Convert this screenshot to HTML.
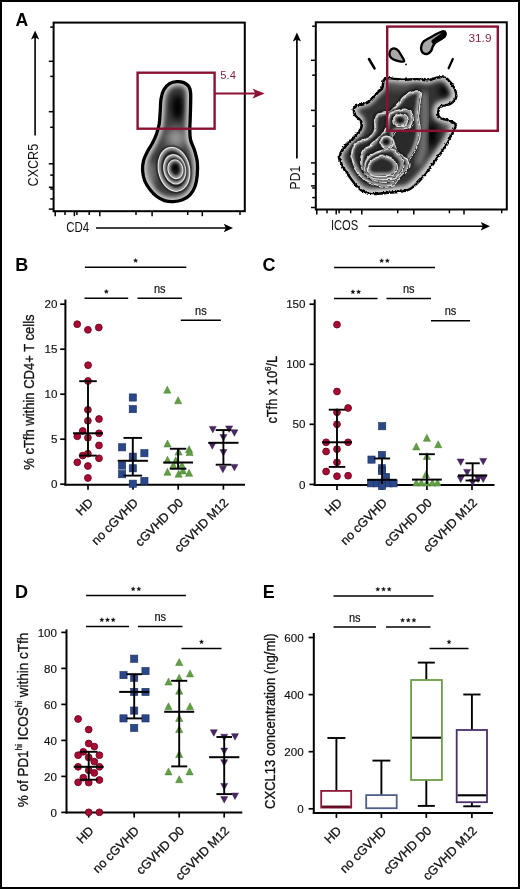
<!DOCTYPE html><html><head><meta charset="utf-8"><style>html,body{margin:0;padding:0;background:#fff}svg{display:block;will-change:transform;font-family:"Liberation Sans",sans-serif}</style></head><body>
<svg width="520" height="889" viewBox="0 0 520 889" font-family="'Liberation Sans', sans-serif">
<rect x="0" y="0" width="520" height="889" fill="#fff"/>
<defs><filter id="bl3" x="-50%" y="-50%" width="200%" height="200%"><feGaussianBlur stdDeviation="3"/></filter><filter id="bl2" x="-50%" y="-50%" width="200%" height="200%"><feGaussianBlur stdDeviation="2"/></filter><filter id="bl15" x="-50%" y="-50%" width="200%" height="200%"><feGaussianBlur stdDeviation="1.3"/></filter><filter id="jag" x="-10%" y="-10%" width="120%" height="120%"><feTurbulence type="turbulence" baseFrequency="0.35" numOctaves="1" seed="3" result="t"/><feDisplacementMap in="SourceGraphic" in2="t" scale="2.2" xChannelSelector="R" yChannelSelector="G"/></filter><filter id="jag3" x="-10%" y="-10%" width="120%" height="120%"><feTurbulence type="turbulence" baseFrequency="0.2" numOctaves="1" seed="7" result="t"/><feDisplacementMap in="SourceGraphic" in2="t" scale="1.2" xChannelSelector="R" yChannelSelector="G"/></filter><filter id="jag2" x="-10%" y="-10%" width="120%" height="120%"><feTurbulence type="turbulence" baseFrequency="0.15" numOctaves="1" seed="5" result="t"/><feDisplacementMap in="SourceGraphic" in2="t" scale="1.6" xChannelSelector="R" yChannelSelector="G"/></filter><filter id="bl5" x="-50%" y="-50%" width="200%" height="200%"><feGaussianBlur stdDeviation="5"/></filter></defs>
<text x="15.4" y="26" font-size="17.6" font-weight="bold" fill="#000">A</text>
<rect x="53.6" y="22.6" width="191.2" height="188.6" fill="none" stroke="#000" stroke-width="2"/>
<line x1="50.2" y1="27.1" x2="53.6" y2="27.1" stroke="#000" stroke-width="1.5"/>
<line x1="48.8" y1="61.3" x2="53.6" y2="61.3" stroke="#000" stroke-width="1.5"/>
<line x1="50.2" y1="76.4" x2="53.6" y2="76.4" stroke="#000" stroke-width="1.5"/>
<line x1="48.8" y1="111.7" x2="53.6" y2="111.7" stroke="#000" stroke-width="1.5"/>
<line x1="50.2" y1="127.3" x2="53.6" y2="127.3" stroke="#000" stroke-width="1.5"/>
<line x1="48.8" y1="163.8" x2="53.6" y2="163.8" stroke="#000" stroke-width="1.5"/>
<line x1="50.2" y1="175.1" x2="53.6" y2="175.1" stroke="#000" stroke-width="1.5"/>
<line x1="48.8" y1="187.3" x2="53.6" y2="187.3" stroke="#000" stroke-width="1.5"/>
<line x1="50.2" y1="189" x2="53.6" y2="189" stroke="#000" stroke-width="1.5"/>
<line x1="50.2" y1="198.9" x2="53.6" y2="198.9" stroke="#000" stroke-width="1.5"/>
<line x1="48.8" y1="209.1" x2="53.6" y2="209.1" stroke="#000" stroke-width="1.5"/>
<line x1="55.2" y1="211.2" x2="55.2" y2="216.2" stroke="#000" stroke-width="1.5"/>
<line x1="65" y1="211.2" x2="65" y2="215" stroke="#000" stroke-width="1.5"/>
<line x1="74.4" y1="211.2" x2="74.4" y2="216.2" stroke="#000" stroke-width="1.5"/>
<line x1="76.9" y1="211.2" x2="76.9" y2="215" stroke="#000" stroke-width="1.5"/>
<line x1="89.2" y1="211.2" x2="89.2" y2="215" stroke="#000" stroke-width="1.5"/>
<line x1="99.8" y1="211.2" x2="99.8" y2="216.2" stroke="#000" stroke-width="1.5"/>
<line x1="136" y1="211.2" x2="136" y2="215" stroke="#000" stroke-width="1.5"/>
<line x1="152.1" y1="211.2" x2="152.1" y2="216.2" stroke="#000" stroke-width="1.5"/>
<line x1="187.7" y1="211.2" x2="187.7" y2="215" stroke="#000" stroke-width="1.5"/>
<line x1="202.3" y1="211.2" x2="202.3" y2="216.2" stroke="#000" stroke-width="1.5"/>
<line x1="240" y1="211.2" x2="240" y2="215" stroke="#000" stroke-width="1.5"/>
<text x="38.4" y="165.1" font-size="15" text-anchor="middle" textLength="42.6" lengthAdjust="spacingAndGlyphs" transform="rotate(-90 38.4 165.1)" fill="#111">CXCR5</text>
<line x1="35.1" y1="135.5" x2="35.1" y2="37" stroke="#000" stroke-width="1.6"/>
<path d="M35.1,30.5 L39.2,39.6 L35.1,37.6 L31,39.6Z" fill="#000"/>
<text x="66.2" y="232.2" font-size="15" textLength="23" lengthAdjust="spacingAndGlyphs" fill="#111">CD4</text>
<line x1="96" y1="228" x2="226" y2="228" stroke="#000" stroke-width="1.4"/>
<path d="M233,228 L223.8,223.8 L225.8,228 L223.8,232.2Z" fill="#000"/>
<clipPath id="cL0"><path d="M176.80,81.60 C179.18,81.42 181.80,81.78 183.80,82.60 C185.80,83.42 187.67,84.77 188.80,86.50 C189.93,88.23 190.30,89.92 190.60,93.00 C190.90,96.08 190.67,100.67 190.60,105.00 C190.53,109.33 190.33,114.83 190.20,119.00 C190.07,123.17 189.73,126.50 189.80,130.00 C189.87,133.50 189.80,136.58 190.60,140.00 C191.40,143.42 193.48,146.83 194.60,150.50 C195.72,154.17 196.87,157.83 197.30,162.00 C197.73,166.17 197.58,171.42 197.20,175.50 C196.82,179.58 196.20,183.28 195.00,186.50 C193.80,189.72 192.08,192.58 190.00,194.80 C187.92,197.02 185.25,198.67 182.50,199.80 C179.75,200.93 176.50,201.47 173.50,201.60 C170.50,201.73 167.33,201.48 164.50,200.60 C161.67,199.72 158.92,198.15 156.50,196.30 C154.08,194.45 151.95,192.05 150.00,189.50 C148.05,186.95 146.03,184.17 144.80,181.00 C143.57,177.83 142.80,173.92 142.60,170.50 C142.40,167.08 142.78,163.67 143.60,160.50 C144.42,157.33 146.02,154.42 147.50,151.50 C148.98,148.58 151.00,145.92 152.50,143.00 C154.00,140.08 155.38,137.17 156.50,134.00 C157.62,130.83 158.57,128.00 159.20,124.00 C159.83,120.00 160.00,114.17 160.30,110.00 C160.60,105.83 160.42,102.37 161.00,99.00 C161.58,95.63 162.38,92.35 163.80,89.80 C165.22,87.25 167.33,85.07 169.50,83.70 C171.67,82.33 174.42,81.78 176.80,81.60Z"/></clipPath>
<clipPath id="cL1"><path d="M189.16,166.08 C189.75,168.85 189.97,171.92 189.77,174.63 C189.58,177.35 188.94,180.13 187.98,182.38 C187.03,184.63 185.63,186.69 184.07,188.13 C182.50,189.57 180.55,190.60 178.62,191.01 C176.68,191.43 174.47,191.28 172.46,190.60 C170.45,189.91 168.33,188.60 166.54,186.93 C164.76,185.27 163.04,182.99 161.76,180.59 C160.48,178.19 159.43,175.29 158.84,172.52 C158.25,169.75 158.03,166.68 158.23,163.97 C158.42,161.25 159.06,158.47 160.02,156.22 C160.97,153.97 162.37,151.91 163.93,150.47 C165.50,149.03 167.45,148.00 169.38,147.59 C171.32,147.17 173.53,147.32 175.54,148.00 C177.55,148.69 179.67,150.00 181.46,151.67 C183.24,153.33 184.96,155.61 186.24,158.01 C187.52,160.41 188.57,163.31 189.16,166.08Z"/></clipPath>
<clipPath id="cL2"><path d="M185.26,167.05 C185.66,168.90 185.79,170.95 185.64,172.77 C185.48,174.58 185.02,176.44 184.35,177.95 C183.67,179.46 182.68,180.84 181.59,181.82 C180.49,182.79 179.12,183.49 177.78,183.78 C176.43,184.06 174.90,183.98 173.50,183.53 C172.11,183.09 170.64,182.23 169.41,181.12 C168.18,180.02 167.00,178.51 166.12,176.91 C165.24,175.32 164.53,173.39 164.14,171.55 C163.74,169.70 163.61,167.65 163.76,165.83 C163.92,164.02 164.38,162.16 165.05,160.65 C165.73,159.14 166.72,157.76 167.81,156.78 C168.91,155.81 170.28,155.11 171.62,154.82 C172.97,154.54 174.50,154.62 175.90,155.07 C177.29,155.51 178.76,156.37 179.99,157.48 C181.22,158.58 182.40,160.09 183.28,161.69 C184.16,163.28 184.87,165.21 185.26,167.05Z"/></clipPath>
<clipPath id="cL3"><path d="M182.64,167.76 C182.89,168.93 182.96,170.24 182.84,171.40 C182.71,172.56 182.38,173.75 181.90,174.71 C181.42,175.68 180.73,176.58 179.98,177.21 C179.22,177.84 178.28,178.30 177.35,178.49 C176.43,178.69 175.38,178.65 174.44,178.38 C173.49,178.12 172.49,177.58 171.66,176.89 C170.83,176.20 170.04,175.25 169.46,174.24 C168.88,173.23 168.41,172.01 168.16,170.84 C167.91,169.67 167.84,168.36 167.96,167.20 C168.09,166.04 168.42,164.85 168.90,163.89 C169.38,162.92 170.07,162.02 170.82,161.39 C171.58,160.76 172.52,160.30 173.45,160.11 C174.37,159.91 175.42,159.95 176.36,160.22 C177.31,160.48 178.31,161.02 179.14,161.71 C179.97,162.40 180.76,163.35 181.34,164.36 C181.92,165.37 182.39,166.59 182.64,167.76Z"/></clipPath>
<path d="M176.80,81.60 C179.18,81.42 181.80,81.78 183.80,82.60 C185.80,83.42 187.67,84.77 188.80,86.50 C189.93,88.23 190.30,89.92 190.60,93.00 C190.90,96.08 190.67,100.67 190.60,105.00 C190.53,109.33 190.33,114.83 190.20,119.00 C190.07,123.17 189.73,126.50 189.80,130.00 C189.87,133.50 189.80,136.58 190.60,140.00 C191.40,143.42 193.48,146.83 194.60,150.50 C195.72,154.17 196.87,157.83 197.30,162.00 C197.73,166.17 197.58,171.42 197.20,175.50 C196.82,179.58 196.20,183.28 195.00,186.50 C193.80,189.72 192.08,192.58 190.00,194.80 C187.92,197.02 185.25,198.67 182.50,199.80 C179.75,200.93 176.50,201.47 173.50,201.60 C170.50,201.73 167.33,201.48 164.50,200.60 C161.67,199.72 158.92,198.15 156.50,196.30 C154.08,194.45 151.95,192.05 150.00,189.50 C148.05,186.95 146.03,184.17 144.80,181.00 C143.57,177.83 142.80,173.92 142.60,170.50 C142.40,167.08 142.78,163.67 143.60,160.50 C144.42,157.33 146.02,154.42 147.50,151.50 C148.98,148.58 151.00,145.92 152.50,143.00 C154.00,140.08 155.38,137.17 156.50,134.00 C157.62,130.83 158.57,128.00 159.20,124.00 C159.83,120.00 160.00,114.17 160.30,110.00 C160.60,105.83 160.42,102.37 161.00,99.00 C161.58,95.63 162.38,92.35 163.80,89.80 C165.22,87.25 167.33,85.07 169.50,83.70 C171.67,82.33 174.42,81.78 176.80,81.60Z" fill="#3c3c3c"/>
<g clip-path="url(#cL0)">
<ellipse cx="176" cy="138" rx="10" ry="10" fill="#999" filter="url(#bl5)"/>
<ellipse cx="177.5" cy="107" rx="6" ry="13" fill="#000" filter="url(#bl3)"/>
<ellipse cx="150" cy="175" rx="5" ry="14" fill="#888" filter="url(#bl3)" opacity="0.8"/>
<g clip-path="url(#cL0)"><path d="M176.80,81.60 C179.18,81.42 181.80,81.78 183.80,82.60 C185.80,83.42 187.67,84.77 188.80,86.50 C189.93,88.23 190.30,89.92 190.60,93.00 C190.90,96.08 190.67,100.67 190.60,105.00 C190.53,109.33 190.33,114.83 190.20,119.00 C190.07,123.17 189.73,126.50 189.80,130.00 C189.87,133.50 189.80,136.58 190.60,140.00 C191.40,143.42 193.48,146.83 194.60,150.50 C195.72,154.17 196.87,157.83 197.30,162.00 C197.73,166.17 197.58,171.42 197.20,175.50 C196.82,179.58 196.20,183.28 195.00,186.50 C193.80,189.72 192.08,192.58 190.00,194.80 C187.92,197.02 185.25,198.67 182.50,199.80 C179.75,200.93 176.50,201.47 173.50,201.60 C170.50,201.73 167.33,201.48 164.50,200.60 C161.67,199.72 158.92,198.15 156.50,196.30 C154.08,194.45 151.95,192.05 150.00,189.50 C148.05,186.95 146.03,184.17 144.80,181.00 C143.57,177.83 142.80,173.92 142.60,170.50 C142.40,167.08 142.78,163.67 143.60,160.50 C144.42,157.33 146.02,154.42 147.50,151.50 C148.98,148.58 151.00,145.92 152.50,143.00 C154.00,140.08 155.38,137.17 156.50,134.00 C157.62,130.83 158.57,128.00 159.20,124.00 C159.83,120.00 160.00,114.17 160.30,110.00 C160.60,105.83 160.42,102.37 161.00,99.00 C161.58,95.63 162.38,92.35 163.80,89.80 C165.22,87.25 167.33,85.07 169.50,83.70 C171.67,82.33 174.42,81.78 176.80,81.60Z" fill="none" stroke="#cdcdcd" stroke-width="9" filter="url(#bl2)"/></g>
<path d="M189.16,166.08 C189.75,168.85 189.97,171.92 189.77,174.63 C189.58,177.35 188.94,180.13 187.98,182.38 C187.03,184.63 185.63,186.69 184.07,188.13 C182.50,189.57 180.55,190.60 178.62,191.01 C176.68,191.43 174.47,191.28 172.46,190.60 C170.45,189.91 168.33,188.60 166.54,186.93 C164.76,185.27 163.04,182.99 161.76,180.59 C160.48,178.19 159.43,175.29 158.84,172.52 C158.25,169.75 158.03,166.68 158.23,163.97 C158.42,161.25 159.06,158.47 160.02,156.22 C160.97,153.97 162.37,151.91 163.93,150.47 C165.50,149.03 167.45,148.00 169.38,147.59 C171.32,147.17 173.53,147.32 175.54,148.00 C177.55,148.69 179.67,150.00 181.46,151.67 C183.24,153.33 184.96,155.61 186.24,158.01 C187.52,160.41 188.57,163.31 189.16,166.08Z" fill="#1e1e1e" stroke="#111" stroke-width="2.5" filter="url(#bl15)"/>
<path d="M189.16,166.08 C189.75,168.85 189.97,171.92 189.77,174.63 C189.58,177.35 188.94,180.13 187.98,182.38 C187.03,184.63 185.63,186.69 184.07,188.13 C182.50,189.57 180.55,190.60 178.62,191.01 C176.68,191.43 174.47,191.28 172.46,190.60 C170.45,189.91 168.33,188.60 166.54,186.93 C164.76,185.27 163.04,182.99 161.76,180.59 C160.48,178.19 159.43,175.29 158.84,172.52 C158.25,169.75 158.03,166.68 158.23,163.97 C158.42,161.25 159.06,158.47 160.02,156.22 C160.97,153.97 162.37,151.91 163.93,150.47 C165.50,149.03 167.45,148.00 169.38,147.59 C171.32,147.17 173.53,147.32 175.54,148.00 C177.55,148.69 179.67,150.00 181.46,151.67 C183.24,153.33 184.96,155.61 186.24,158.01 C187.52,160.41 188.57,163.31 189.16,166.08Z" fill="#2a2a2a"/>
<g clip-path="url(#cL1)"><path d="M189.16,166.08 C189.75,168.85 189.97,171.92 189.77,174.63 C189.58,177.35 188.94,180.13 187.98,182.38 C187.03,184.63 185.63,186.69 184.07,188.13 C182.50,189.57 180.55,190.60 178.62,191.01 C176.68,191.43 174.47,191.28 172.46,190.60 C170.45,189.91 168.33,188.60 166.54,186.93 C164.76,185.27 163.04,182.99 161.76,180.59 C160.48,178.19 159.43,175.29 158.84,172.52 C158.25,169.75 158.03,166.68 158.23,163.97 C158.42,161.25 159.06,158.47 160.02,156.22 C160.97,153.97 162.37,151.91 163.93,150.47 C165.50,149.03 167.45,148.00 169.38,147.59 C171.32,147.17 173.53,147.32 175.54,148.00 C177.55,148.69 179.67,150.00 181.46,151.67 C183.24,153.33 184.96,155.61 186.24,158.01 C187.52,160.41 188.57,163.31 189.16,166.08Z" fill="none" stroke="#9a9a9a" stroke-width="6" filter="url(#bl15)"/></g>
<path d="M189.16,166.08 C189.75,168.85 189.97,171.92 189.77,174.63 C189.58,177.35 188.94,180.13 187.98,182.38 C187.03,184.63 185.63,186.69 184.07,188.13 C182.50,189.57 180.55,190.60 178.62,191.01 C176.68,191.43 174.47,191.28 172.46,190.60 C170.45,189.91 168.33,188.60 166.54,186.93 C164.76,185.27 163.04,182.99 161.76,180.59 C160.48,178.19 159.43,175.29 158.84,172.52 C158.25,169.75 158.03,166.68 158.23,163.97 C158.42,161.25 159.06,158.47 160.02,156.22 C160.97,153.97 162.37,151.91 163.93,150.47 C165.50,149.03 167.45,148.00 169.38,147.59 C171.32,147.17 173.53,147.32 175.54,148.00 C177.55,148.69 179.67,150.00 181.46,151.67 C183.24,153.33 184.96,155.61 186.24,158.01 C187.52,160.41 188.57,163.31 189.16,166.08Z" fill="none" stroke="#e2e2e2" stroke-width="1.25"/>
<path d="M185.26,167.05 C185.66,168.90 185.79,170.95 185.64,172.77 C185.48,174.58 185.02,176.44 184.35,177.95 C183.67,179.46 182.68,180.84 181.59,181.82 C180.49,182.79 179.12,183.49 177.78,183.78 C176.43,184.06 174.90,183.98 173.50,183.53 C172.11,183.09 170.64,182.23 169.41,181.12 C168.18,180.02 167.00,178.51 166.12,176.91 C165.24,175.32 164.53,173.39 164.14,171.55 C163.74,169.70 163.61,167.65 163.76,165.83 C163.92,164.02 164.38,162.16 165.05,160.65 C165.73,159.14 166.72,157.76 167.81,156.78 C168.91,155.81 170.28,155.11 171.62,154.82 C172.97,154.54 174.50,154.62 175.90,155.07 C177.29,155.51 178.76,156.37 179.99,157.48 C181.22,158.58 182.40,160.09 183.28,161.69 C184.16,163.28 184.87,165.21 185.26,167.05Z" fill="#1e1e1e" stroke="#111" stroke-width="2.5" filter="url(#bl15)"/>
<path d="M185.26,167.05 C185.66,168.90 185.79,170.95 185.64,172.77 C185.48,174.58 185.02,176.44 184.35,177.95 C183.67,179.46 182.68,180.84 181.59,181.82 C180.49,182.79 179.12,183.49 177.78,183.78 C176.43,184.06 174.90,183.98 173.50,183.53 C172.11,183.09 170.64,182.23 169.41,181.12 C168.18,180.02 167.00,178.51 166.12,176.91 C165.24,175.32 164.53,173.39 164.14,171.55 C163.74,169.70 163.61,167.65 163.76,165.83 C163.92,164.02 164.38,162.16 165.05,160.65 C165.73,159.14 166.72,157.76 167.81,156.78 C168.91,155.81 170.28,155.11 171.62,154.82 C172.97,154.54 174.50,154.62 175.90,155.07 C177.29,155.51 178.76,156.37 179.99,157.48 C181.22,158.58 182.40,160.09 183.28,161.69 C184.16,163.28 184.87,165.21 185.26,167.05Z" fill="#2a2a2a"/>
<g clip-path="url(#cL2)"><path d="M185.26,167.05 C185.66,168.90 185.79,170.95 185.64,172.77 C185.48,174.58 185.02,176.44 184.35,177.95 C183.67,179.46 182.68,180.84 181.59,181.82 C180.49,182.79 179.12,183.49 177.78,183.78 C176.43,184.06 174.90,183.98 173.50,183.53 C172.11,183.09 170.64,182.23 169.41,181.12 C168.18,180.02 167.00,178.51 166.12,176.91 C165.24,175.32 164.53,173.39 164.14,171.55 C163.74,169.70 163.61,167.65 163.76,165.83 C163.92,164.02 164.38,162.16 165.05,160.65 C165.73,159.14 166.72,157.76 167.81,156.78 C168.91,155.81 170.28,155.11 171.62,154.82 C172.97,154.54 174.50,154.62 175.90,155.07 C177.29,155.51 178.76,156.37 179.99,157.48 C181.22,158.58 182.40,160.09 183.28,161.69 C184.16,163.28 184.87,165.21 185.26,167.05Z" fill="none" stroke="#9a9a9a" stroke-width="6" filter="url(#bl15)"/></g>
<path d="M185.26,167.05 C185.66,168.90 185.79,170.95 185.64,172.77 C185.48,174.58 185.02,176.44 184.35,177.95 C183.67,179.46 182.68,180.84 181.59,181.82 C180.49,182.79 179.12,183.49 177.78,183.78 C176.43,184.06 174.90,183.98 173.50,183.53 C172.11,183.09 170.64,182.23 169.41,181.12 C168.18,180.02 167.00,178.51 166.12,176.91 C165.24,175.32 164.53,173.39 164.14,171.55 C163.74,169.70 163.61,167.65 163.76,165.83 C163.92,164.02 164.38,162.16 165.05,160.65 C165.73,159.14 166.72,157.76 167.81,156.78 C168.91,155.81 170.28,155.11 171.62,154.82 C172.97,154.54 174.50,154.62 175.90,155.07 C177.29,155.51 178.76,156.37 179.99,157.48 C181.22,158.58 182.40,160.09 183.28,161.69 C184.16,163.28 184.87,165.21 185.26,167.05Z" fill="none" stroke="#e2e2e2" stroke-width="1.25"/>
<path d="M182.64,167.76 C182.89,168.93 182.96,170.24 182.84,171.40 C182.71,172.56 182.38,173.75 181.90,174.71 C181.42,175.68 180.73,176.58 179.98,177.21 C179.22,177.84 178.28,178.30 177.35,178.49 C176.43,178.69 175.38,178.65 174.44,178.38 C173.49,178.12 172.49,177.58 171.66,176.89 C170.83,176.20 170.04,175.25 169.46,174.24 C168.88,173.23 168.41,172.01 168.16,170.84 C167.91,169.67 167.84,168.36 167.96,167.20 C168.09,166.04 168.42,164.85 168.90,163.89 C169.38,162.92 170.07,162.02 170.82,161.39 C171.58,160.76 172.52,160.30 173.45,160.11 C174.37,159.91 175.42,159.95 176.36,160.22 C177.31,160.48 178.31,161.02 179.14,161.71 C179.97,162.40 180.76,163.35 181.34,164.36 C181.92,165.37 182.39,166.59 182.64,167.76Z" fill="#1e1e1e" stroke="#111" stroke-width="2.5" filter="url(#bl15)"/>
<path d="M182.64,167.76 C182.89,168.93 182.96,170.24 182.84,171.40 C182.71,172.56 182.38,173.75 181.90,174.71 C181.42,175.68 180.73,176.58 179.98,177.21 C179.22,177.84 178.28,178.30 177.35,178.49 C176.43,178.69 175.38,178.65 174.44,178.38 C173.49,178.12 172.49,177.58 171.66,176.89 C170.83,176.20 170.04,175.25 169.46,174.24 C168.88,173.23 168.41,172.01 168.16,170.84 C167.91,169.67 167.84,168.36 167.96,167.20 C168.09,166.04 168.42,164.85 168.90,163.89 C169.38,162.92 170.07,162.02 170.82,161.39 C171.58,160.76 172.52,160.30 173.45,160.11 C174.37,159.91 175.42,159.95 176.36,160.22 C177.31,160.48 178.31,161.02 179.14,161.71 C179.97,162.40 180.76,163.35 181.34,164.36 C181.92,165.37 182.39,166.59 182.64,167.76Z" fill="#2a2a2a"/>
<g clip-path="url(#cL3)"><path d="M182.64,167.76 C182.89,168.93 182.96,170.24 182.84,171.40 C182.71,172.56 182.38,173.75 181.90,174.71 C181.42,175.68 180.73,176.58 179.98,177.21 C179.22,177.84 178.28,178.30 177.35,178.49 C176.43,178.69 175.38,178.65 174.44,178.38 C173.49,178.12 172.49,177.58 171.66,176.89 C170.83,176.20 170.04,175.25 169.46,174.24 C168.88,173.23 168.41,172.01 168.16,170.84 C167.91,169.67 167.84,168.36 167.96,167.20 C168.09,166.04 168.42,164.85 168.90,163.89 C169.38,162.92 170.07,162.02 170.82,161.39 C171.58,160.76 172.52,160.30 173.45,160.11 C174.37,159.91 175.42,159.95 176.36,160.22 C177.31,160.48 178.31,161.02 179.14,161.71 C179.97,162.40 180.76,163.35 181.34,164.36 C181.92,165.37 182.39,166.59 182.64,167.76Z" fill="none" stroke="#9a9a9a" stroke-width="6" filter="url(#bl15)"/></g>
<path d="M182.64,167.76 C182.89,168.93 182.96,170.24 182.84,171.40 C182.71,172.56 182.38,173.75 181.90,174.71 C181.42,175.68 180.73,176.58 179.98,177.21 C179.22,177.84 178.28,178.30 177.35,178.49 C176.43,178.69 175.38,178.65 174.44,178.38 C173.49,178.12 172.49,177.58 171.66,176.89 C170.83,176.20 170.04,175.25 169.46,174.24 C168.88,173.23 168.41,172.01 168.16,170.84 C167.91,169.67 167.84,168.36 167.96,167.20 C168.09,166.04 168.42,164.85 168.90,163.89 C169.38,162.92 170.07,162.02 170.82,161.39 C171.58,160.76 172.52,160.30 173.45,160.11 C174.37,159.91 175.42,159.95 176.36,160.22 C177.31,160.48 178.31,161.02 179.14,161.71 C179.97,162.40 180.76,163.35 181.34,164.36 C181.92,165.37 182.39,166.59 182.64,167.76Z" fill="none" stroke="#e2e2e2" stroke-width="1.25"/>
<ellipse cx="175.6" cy="167.8" rx="3.4" ry="5" fill="#000" filter="url(#bl2)"/>
</g>
<path d="M176.80,81.60 C179.18,81.42 181.80,81.78 183.80,82.60 C185.80,83.42 187.67,84.77 188.80,86.50 C189.93,88.23 190.30,89.92 190.60,93.00 C190.90,96.08 190.67,100.67 190.60,105.00 C190.53,109.33 190.33,114.83 190.20,119.00 C190.07,123.17 189.73,126.50 189.80,130.00 C189.87,133.50 189.80,136.58 190.60,140.00 C191.40,143.42 193.48,146.83 194.60,150.50 C195.72,154.17 196.87,157.83 197.30,162.00 C197.73,166.17 197.58,171.42 197.20,175.50 C196.82,179.58 196.20,183.28 195.00,186.50 C193.80,189.72 192.08,192.58 190.00,194.80 C187.92,197.02 185.25,198.67 182.50,199.80 C179.75,200.93 176.50,201.47 173.50,201.60 C170.50,201.73 167.33,201.48 164.50,200.60 C161.67,199.72 158.92,198.15 156.50,196.30 C154.08,194.45 151.95,192.05 150.00,189.50 C148.05,186.95 146.03,184.17 144.80,181.00 C143.57,177.83 142.80,173.92 142.60,170.50 C142.40,167.08 142.78,163.67 143.60,160.50 C144.42,157.33 146.02,154.42 147.50,151.50 C148.98,148.58 151.00,145.92 152.50,143.00 C154.00,140.08 155.38,137.17 156.50,134.00 C157.62,130.83 158.57,128.00 159.20,124.00 C159.83,120.00 160.00,114.17 160.30,110.00 C160.60,105.83 160.42,102.37 161.00,99.00 C161.58,95.63 162.38,92.35 163.80,89.80 C165.22,87.25 167.33,85.07 169.50,83.70 C171.67,82.33 174.42,81.78 176.80,81.60Z" fill="none" stroke="#000" stroke-width="3.3"/>
<rect x="137.6" y="72.7" width="77" height="56" fill="none" stroke="#8a1232" stroke-width="2.4"/>
<line x1="214.6" y1="93.6" x2="256" y2="93.6" stroke="#8a1232" stroke-width="2"/>
<path d="M264.6,93.6 L252.6,88.6 L255.4,93.6 L252.6,98.6Z" fill="#8a1232"/>
<text x="220.3" y="78.6" font-size="11.2" fill="#8c2343">5.4</text>
<rect x="315.8" y="22.3" width="191" height="187.2" fill="none" stroke="#000" stroke-width="2"/>
<line x1="312.2" y1="26.2" x2="315.8" y2="26.2" stroke="#000" stroke-width="1.5"/>
<line x1="311" y1="60.3" x2="315.8" y2="60.3" stroke="#000" stroke-width="1.5"/>
<line x1="312.2" y1="75.2" x2="315.8" y2="75.2" stroke="#000" stroke-width="1.5"/>
<line x1="311" y1="110.4" x2="315.8" y2="110.4" stroke="#000" stroke-width="1.5"/>
<line x1="312.2" y1="126.1" x2="315.8" y2="126.1" stroke="#000" stroke-width="1.5"/>
<line x1="311" y1="162.9" x2="315.8" y2="162.9" stroke="#000" stroke-width="1.5"/>
<line x1="312.2" y1="174" x2="315.8" y2="174" stroke="#000" stroke-width="1.5"/>
<line x1="311" y1="185.9" x2="315.8" y2="185.9" stroke="#000" stroke-width="1.5"/>
<line x1="312.2" y1="188" x2="315.8" y2="188" stroke="#000" stroke-width="1.5"/>
<line x1="312.2" y1="197.6" x2="315.8" y2="197.6" stroke="#000" stroke-width="1.5"/>
<line x1="311" y1="207.5" x2="315.8" y2="207.5" stroke="#000" stroke-width="1.5"/>
<line x1="316.8" y1="209.4" x2="316.8" y2="214.4" stroke="#000" stroke-width="1.5"/>
<line x1="327" y1="209.4" x2="327" y2="213.2" stroke="#000" stroke-width="1.5"/>
<line x1="336.2" y1="209.4" x2="336.2" y2="214.4" stroke="#000" stroke-width="1.5"/>
<line x1="339.1" y1="209.4" x2="339.1" y2="213.2" stroke="#000" stroke-width="1.5"/>
<line x1="350.7" y1="209.4" x2="350.7" y2="213.2" stroke="#000" stroke-width="1.5"/>
<line x1="361.8" y1="209.4" x2="361.8" y2="214.4" stroke="#000" stroke-width="1.5"/>
<line x1="397.7" y1="209.4" x2="397.7" y2="213.2" stroke="#000" stroke-width="1.5"/>
<line x1="413.8" y1="209.4" x2="413.8" y2="214.4" stroke="#000" stroke-width="1.5"/>
<line x1="449.4" y1="209.4" x2="449.4" y2="213.2" stroke="#000" stroke-width="1.5"/>
<line x1="464" y1="209.4" x2="464" y2="214.4" stroke="#000" stroke-width="1.5"/>
<line x1="501.7" y1="209.4" x2="501.7" y2="213.2" stroke="#000" stroke-width="1.5"/>
<text x="300.3" y="177.6" font-size="15" text-anchor="middle" textLength="23.6" lengthAdjust="spacingAndGlyphs" transform="rotate(-90 300.3 177.6)" fill="#111">PD1</text>
<line x1="296.9" y1="158.6" x2="296.9" y2="39" stroke="#000" stroke-width="1.7"/>
<path d="M296.9,32.4 L301,41.5 L296.9,39.5 L292.8,41.5Z" fill="#000"/>
<text x="330.9" y="229.8" font-size="15" textLength="27.4" lengthAdjust="spacingAndGlyphs" fill="#111">ICOS</text>
<line x1="368.6" y1="226.2" x2="483" y2="226.2" stroke="#000" stroke-width="1.4"/>
<path d="M490,226.2 L480.8,222 L482.8,226.2 L480.8,230.4Z" fill="#000"/>
<clipPath id="cR0"><path d="M376.50,91.90 C378.65,89.65 380.17,89.35 381.20,87.30 C382.23,85.25 381.90,81.27 382.70,79.60 C383.50,77.93 384.78,77.67 386.00,77.30 C387.22,76.93 387.08,77.17 390.00,77.40 C392.92,77.63 399.00,78.58 403.50,78.70 C408.00,78.82 412.95,77.98 417.00,78.10 C421.05,78.22 424.65,79.63 427.80,79.40 C430.95,79.17 433.20,77.15 435.90,76.70 C438.60,76.25 441.53,75.68 444.00,76.70 C446.47,77.72 448.90,80.43 450.70,82.80 C452.50,85.17 454.12,88.43 454.80,90.90 C455.48,93.37 455.70,95.58 454.80,97.60 C453.90,99.62 451.88,101.65 449.40,103.00 C446.92,104.35 441.93,104.35 439.90,105.70 C437.87,107.05 437.42,109.30 437.20,111.10 C436.98,112.90 437.02,115.15 438.60,116.50 C440.18,117.85 444.23,118.30 446.70,119.20 C449.17,120.10 452.05,121.00 453.40,121.90 C454.75,122.80 454.80,123.47 454.80,124.60 C454.80,125.73 454.08,127.12 453.40,128.70 C452.72,130.28 451.82,131.85 450.70,134.10 C449.58,136.35 448.27,139.50 446.70,142.20 C445.13,144.90 443.33,147.38 441.30,150.30 C439.27,153.22 436.75,156.55 434.50,159.70 C432.25,162.85 430.05,166.27 427.80,169.20 C425.55,172.13 423.48,174.60 421.00,177.30 C418.52,180.00 415.37,183.38 412.90,185.40 C410.43,187.42 408.67,188.50 406.20,189.40 C403.73,190.30 401.63,190.37 398.10,190.80 C394.57,191.23 389.58,191.62 385.00,192.00 C380.42,192.38 374.35,193.30 370.60,193.10 C366.85,192.90 364.80,191.95 362.50,190.80 C360.20,189.65 358.72,188.13 356.80,186.20 C354.88,184.27 352.93,181.70 351.00,179.20 C349.07,176.70 346.93,173.88 345.20,171.20 C343.47,168.52 341.65,165.60 340.60,163.10 C339.55,160.60 339.00,158.13 338.90,156.20 C338.80,154.27 338.95,153.43 340.00,151.50 C341.05,149.57 343.17,146.90 345.20,144.60 C347.23,142.30 349.98,140.00 352.20,137.70 C354.42,135.40 357.07,132.92 358.50,130.80 C359.93,128.68 360.70,126.93 360.80,125.00 C360.90,123.07 360.15,120.93 359.10,119.20 C358.05,117.47 355.57,116.13 354.50,114.60 C353.43,113.07 352.80,111.43 352.70,110.00 C352.60,108.57 352.83,106.97 353.90,106.00 C354.97,105.03 356.70,105.07 359.10,104.20 C361.50,103.33 365.40,102.85 368.30,100.80 C371.20,98.75 374.35,94.15 376.50,91.90Z"/></clipPath>
<clipPath id="cR1"><path d="M382.20,112.30 C384.47,111.63 387.35,112.15 390.00,110.60 C392.65,109.05 395.85,105.38 398.10,103.00 C400.35,100.62 401.48,98.10 403.50,96.30 C405.52,94.50 407.73,93.10 410.20,92.20 C412.67,91.30 416.60,90.67 418.30,90.90 C420.00,91.13 420.28,91.58 420.40,93.60 C420.52,95.62 419.45,99.18 419.00,103.00 C418.55,106.82 417.70,112.67 417.70,116.50 C417.70,120.33 418.78,122.85 419.00,126.00 C419.22,129.15 419.45,132.25 419.00,135.40 C418.55,138.55 417.32,141.97 416.30,144.90 C415.28,147.83 414.25,150.53 412.90,153.00 C411.55,155.47 409.77,157.45 408.20,159.70 C406.63,161.95 405.03,163.78 403.50,166.50 C401.97,169.22 400.58,173.08 399.00,176.00 C397.42,178.92 396.23,182.30 394.00,184.00 C391.77,185.70 388.53,186.03 385.60,186.20 C382.67,186.37 379.47,185.78 376.40,185.00 C373.33,184.22 369.90,183.03 367.20,181.50 C364.50,179.97 362.13,177.92 360.20,175.80 C358.27,173.68 356.93,171.12 355.60,168.80 C354.27,166.48 352.97,164.58 352.20,161.90 C351.43,159.22 350.82,155.38 351.00,152.70 C351.18,150.02 352.15,147.72 353.30,145.80 C354.45,143.88 355.98,142.37 357.90,141.20 C359.82,140.03 362.68,139.77 364.80,138.80 C366.92,137.83 369.05,136.93 370.60,135.40 C372.15,133.87 373.52,131.72 374.10,129.60 C374.68,127.48 373.72,125.20 374.10,122.70 C374.48,120.20 375.05,116.33 376.40,114.60 C377.75,112.87 379.93,112.97 382.20,112.30Z"/></clipPath>
<clipPath id="cR2"><path d="M389.00,113.00 C390.40,111.43 392.32,111.20 395.40,110.60 C398.48,110.00 404.77,108.63 407.50,109.40 C410.23,110.17 411.08,112.88 411.80,115.20 C412.52,117.52 412.52,121.22 411.80,123.30 C411.08,125.38 409.63,126.63 407.50,127.70 C405.37,128.77 401.33,128.82 399.00,129.70 C396.67,130.58 394.58,131.45 393.50,133.00 C392.42,134.55 392.33,136.83 392.50,139.00 C392.67,141.17 393.58,143.75 394.50,146.00 C395.42,148.25 396.08,150.50 398.00,152.50 C399.92,154.50 404.17,156.12 406.00,158.00 C407.83,159.88 408.92,161.88 409.00,163.80 C409.08,165.72 407.83,167.55 406.50,169.50 C405.17,171.45 403.00,173.75 401.00,175.50 C399.00,177.25 397.25,179.02 394.50,180.00 C391.75,180.98 387.90,181.47 384.50,181.40 C381.10,181.33 376.98,180.53 374.10,179.60 C371.22,178.67 369.13,177.60 367.20,175.80 C365.27,174.00 363.57,171.12 362.50,168.80 C361.43,166.48 360.98,164.40 360.80,161.90 C360.62,159.40 360.73,156.10 361.40,153.80 C362.07,151.50 363.27,149.63 364.80,148.10 C366.33,146.57 368.87,145.95 370.60,144.60 C372.33,143.25 373.47,141.68 375.20,140.00 C376.93,138.32 379.28,136.50 381.00,134.50 C382.72,132.50 384.50,130.42 385.50,128.00 C386.50,125.58 386.42,122.50 387.00,120.00 C387.58,117.50 387.60,114.57 389.00,113.00Z"/></clipPath>
<clipPath id="cR3"><path d="M393.00,148.50 C395.47,149.18 395.50,151.75 397.00,153.50 C398.50,155.25 401.00,156.92 402.00,159.00 C403.00,161.08 403.42,163.75 403.00,166.00 C402.58,168.25 401.05,170.57 399.50,172.50 C397.95,174.43 396.58,176.62 393.70,177.60 C390.82,178.58 386.05,178.57 382.20,178.40 C378.35,178.23 373.40,177.80 370.60,176.60 C367.80,175.40 366.45,173.27 365.40,171.20 C364.35,169.13 364.00,166.52 364.30,164.20 C364.60,161.88 365.57,159.22 367.20,157.30 C368.83,155.38 371.60,154.02 374.10,152.70 C376.60,151.38 379.05,150.10 382.20,149.40 C385.35,148.70 390.53,147.82 393.00,148.50Z"/></clipPath>
<clipPath id="cR4"><path d="M407.30,119.90 C407.30,120.65 407.10,121.46 406.75,122.16 C406.40,122.85 405.84,123.54 405.19,124.07 C404.54,124.60 403.70,125.06 402.86,125.35 C402.01,125.64 401.02,125.80 400.10,125.80 C399.18,125.80 398.19,125.64 397.34,125.35 C396.50,125.06 395.66,124.60 395.01,124.07 C394.36,123.54 393.80,122.85 393.45,122.16 C393.10,121.46 392.90,120.65 392.90,119.90 C392.90,119.15 393.10,118.34 393.45,117.64 C393.80,116.95 394.36,116.26 395.01,115.73 C395.66,115.20 396.50,114.74 397.34,114.45 C398.19,114.16 399.18,114.00 400.10,114.00 C401.02,114.00 402.01,114.16 402.86,114.45 C403.70,114.74 404.54,115.20 405.19,115.73 C405.84,116.26 406.40,116.95 406.75,117.64 C407.10,118.34 407.30,119.15 407.30,119.90Z"/></clipPath>
<clipPath id="cR5"><path d="M392.50,141.70 C392.50,142.50 392.33,143.37 392.02,144.11 C391.71,144.85 391.22,145.59 390.65,146.15 C390.09,146.72 389.35,147.21 388.61,147.52 C387.87,147.83 387.00,148.00 386.20,148.00 C385.40,148.00 384.53,147.83 383.79,147.52 C383.05,147.21 382.31,146.72 381.75,146.15 C381.18,145.59 380.69,144.85 380.38,144.11 C380.07,143.37 379.90,142.50 379.90,141.70 C379.90,140.90 380.07,140.03 380.38,139.29 C380.69,138.55 381.18,137.81 381.75,137.25 C382.31,136.68 383.05,136.19 383.79,135.88 C384.53,135.57 385.40,135.40 386.20,135.40 C387.00,135.40 387.87,135.57 388.61,135.88 C389.35,136.19 390.09,136.68 390.65,137.25 C391.22,137.81 391.71,138.55 392.02,139.29 C392.33,140.03 392.50,140.90 392.50,141.70Z"/></clipPath>
<clipPath id="cR6"><path d="M367.20,168.80 C367.02,166.72 368.17,163.82 369.50,161.90 C370.83,159.98 373.08,158.45 375.20,157.30 C377.32,156.15 379.88,155.00 382.20,155.00 C384.52,155.00 387.13,156.38 389.10,157.30 C391.07,158.22 392.77,159.05 394.00,160.50 C395.23,161.95 396.33,164.17 396.50,166.00 C396.67,167.83 395.85,170.07 395.00,171.50 C394.15,172.93 393.53,173.92 391.40,174.60 C389.27,175.28 385.67,175.63 382.20,175.60 C378.73,175.57 373.10,175.53 370.60,174.40 C368.10,173.27 367.38,170.88 367.20,168.80Z"/></clipPath>
<path d="M376.50,91.90 C378.65,89.65 380.17,89.35 381.20,87.30 C382.23,85.25 381.90,81.27 382.70,79.60 C383.50,77.93 384.78,77.67 386.00,77.30 C387.22,76.93 387.08,77.17 390.00,77.40 C392.92,77.63 399.00,78.58 403.50,78.70 C408.00,78.82 412.95,77.98 417.00,78.10 C421.05,78.22 424.65,79.63 427.80,79.40 C430.95,79.17 433.20,77.15 435.90,76.70 C438.60,76.25 441.53,75.68 444.00,76.70 C446.47,77.72 448.90,80.43 450.70,82.80 C452.50,85.17 454.12,88.43 454.80,90.90 C455.48,93.37 455.70,95.58 454.80,97.60 C453.90,99.62 451.88,101.65 449.40,103.00 C446.92,104.35 441.93,104.35 439.90,105.70 C437.87,107.05 437.42,109.30 437.20,111.10 C436.98,112.90 437.02,115.15 438.60,116.50 C440.18,117.85 444.23,118.30 446.70,119.20 C449.17,120.10 452.05,121.00 453.40,121.90 C454.75,122.80 454.80,123.47 454.80,124.60 C454.80,125.73 454.08,127.12 453.40,128.70 C452.72,130.28 451.82,131.85 450.70,134.10 C449.58,136.35 448.27,139.50 446.70,142.20 C445.13,144.90 443.33,147.38 441.30,150.30 C439.27,153.22 436.75,156.55 434.50,159.70 C432.25,162.85 430.05,166.27 427.80,169.20 C425.55,172.13 423.48,174.60 421.00,177.30 C418.52,180.00 415.37,183.38 412.90,185.40 C410.43,187.42 408.67,188.50 406.20,189.40 C403.73,190.30 401.63,190.37 398.10,190.80 C394.57,191.23 389.58,191.62 385.00,192.00 C380.42,192.38 374.35,193.30 370.60,193.10 C366.85,192.90 364.80,191.95 362.50,190.80 C360.20,189.65 358.72,188.13 356.80,186.20 C354.88,184.27 352.93,181.70 351.00,179.20 C349.07,176.70 346.93,173.88 345.20,171.20 C343.47,168.52 341.65,165.60 340.60,163.10 C339.55,160.60 339.00,158.13 338.90,156.20 C338.80,154.27 338.95,153.43 340.00,151.50 C341.05,149.57 343.17,146.90 345.20,144.60 C347.23,142.30 349.98,140.00 352.20,137.70 C354.42,135.40 357.07,132.92 358.50,130.80 C359.93,128.68 360.70,126.93 360.80,125.00 C360.90,123.07 360.15,120.93 359.10,119.20 C358.05,117.47 355.57,116.13 354.50,114.60 C353.43,113.07 352.80,111.43 352.70,110.00 C352.60,108.57 352.83,106.97 353.90,106.00 C354.97,105.03 356.70,105.07 359.10,104.20 C361.50,103.33 365.40,102.85 368.30,100.80 C371.20,98.75 374.35,94.15 376.50,91.90Z" fill="#333333"/>
<g clip-path="url(#cR0)">
<ellipse cx="444" cy="91" rx="5" ry="6" fill="#000" filter="url(#bl3)"/>
<ellipse cx="432" cy="135" rx="5" ry="12" fill="#000" filter="url(#bl3)"/>
<path d="M424,92 L425,120 L423,150 L418,165" fill="none" stroke="#9a9a9a" stroke-width="5" filter="url(#bl3)"/>
<ellipse cx="446" cy="125" rx="4" ry="5" fill="#777" filter="url(#bl3)" opacity="0.7"/>
<ellipse cx="398" cy="86" rx="14" ry="4" fill="#777" filter="url(#bl3)" opacity="0.6"/>
<g clip-path="url(#cR0)"><path d="M376.50,91.90 C378.65,89.65 380.17,89.35 381.20,87.30 C382.23,85.25 381.90,81.27 382.70,79.60 C383.50,77.93 384.78,77.67 386.00,77.30 C387.22,76.93 387.08,77.17 390.00,77.40 C392.92,77.63 399.00,78.58 403.50,78.70 C408.00,78.82 412.95,77.98 417.00,78.10 C421.05,78.22 424.65,79.63 427.80,79.40 C430.95,79.17 433.20,77.15 435.90,76.70 C438.60,76.25 441.53,75.68 444.00,76.70 C446.47,77.72 448.90,80.43 450.70,82.80 C452.50,85.17 454.12,88.43 454.80,90.90 C455.48,93.37 455.70,95.58 454.80,97.60 C453.90,99.62 451.88,101.65 449.40,103.00 C446.92,104.35 441.93,104.35 439.90,105.70 C437.87,107.05 437.42,109.30 437.20,111.10 C436.98,112.90 437.02,115.15 438.60,116.50 C440.18,117.85 444.23,118.30 446.70,119.20 C449.17,120.10 452.05,121.00 453.40,121.90 C454.75,122.80 454.80,123.47 454.80,124.60 C454.80,125.73 454.08,127.12 453.40,128.70 C452.72,130.28 451.82,131.85 450.70,134.10 C449.58,136.35 448.27,139.50 446.70,142.20 C445.13,144.90 443.33,147.38 441.30,150.30 C439.27,153.22 436.75,156.55 434.50,159.70 C432.25,162.85 430.05,166.27 427.80,169.20 C425.55,172.13 423.48,174.60 421.00,177.30 C418.52,180.00 415.37,183.38 412.90,185.40 C410.43,187.42 408.67,188.50 406.20,189.40 C403.73,190.30 401.63,190.37 398.10,190.80 C394.57,191.23 389.58,191.62 385.00,192.00 C380.42,192.38 374.35,193.30 370.60,193.10 C366.85,192.90 364.80,191.95 362.50,190.80 C360.20,189.65 358.72,188.13 356.80,186.20 C354.88,184.27 352.93,181.70 351.00,179.20 C349.07,176.70 346.93,173.88 345.20,171.20 C343.47,168.52 341.65,165.60 340.60,163.10 C339.55,160.60 339.00,158.13 338.90,156.20 C338.80,154.27 338.95,153.43 340.00,151.50 C341.05,149.57 343.17,146.90 345.20,144.60 C347.23,142.30 349.98,140.00 352.20,137.70 C354.42,135.40 357.07,132.92 358.50,130.80 C359.93,128.68 360.70,126.93 360.80,125.00 C360.90,123.07 360.15,120.93 359.10,119.20 C358.05,117.47 355.57,116.13 354.50,114.60 C353.43,113.07 352.80,111.43 352.70,110.00 C352.60,108.57 352.83,106.97 353.90,106.00 C354.97,105.03 356.70,105.07 359.10,104.20 C361.50,103.33 365.40,102.85 368.30,100.80 C371.20,98.75 374.35,94.15 376.50,91.90Z" fill="none" stroke="#cdcdcd" stroke-width="9" filter="url(#bl2)"/></g>
<path d="M382.20,112.30 C384.47,111.63 387.35,112.15 390.00,110.60 C392.65,109.05 395.85,105.38 398.10,103.00 C400.35,100.62 401.48,98.10 403.50,96.30 C405.52,94.50 407.73,93.10 410.20,92.20 C412.67,91.30 416.60,90.67 418.30,90.90 C420.00,91.13 420.28,91.58 420.40,93.60 C420.52,95.62 419.45,99.18 419.00,103.00 C418.55,106.82 417.70,112.67 417.70,116.50 C417.70,120.33 418.78,122.85 419.00,126.00 C419.22,129.15 419.45,132.25 419.00,135.40 C418.55,138.55 417.32,141.97 416.30,144.90 C415.28,147.83 414.25,150.53 412.90,153.00 C411.55,155.47 409.77,157.45 408.20,159.70 C406.63,161.95 405.03,163.78 403.50,166.50 C401.97,169.22 400.58,173.08 399.00,176.00 C397.42,178.92 396.23,182.30 394.00,184.00 C391.77,185.70 388.53,186.03 385.60,186.20 C382.67,186.37 379.47,185.78 376.40,185.00 C373.33,184.22 369.90,183.03 367.20,181.50 C364.50,179.97 362.13,177.92 360.20,175.80 C358.27,173.68 356.93,171.12 355.60,168.80 C354.27,166.48 352.97,164.58 352.20,161.90 C351.43,159.22 350.82,155.38 351.00,152.70 C351.18,150.02 352.15,147.72 353.30,145.80 C354.45,143.88 355.98,142.37 357.90,141.20 C359.82,140.03 362.68,139.77 364.80,138.80 C366.92,137.83 369.05,136.93 370.60,135.40 C372.15,133.87 373.52,131.72 374.10,129.60 C374.68,127.48 373.72,125.20 374.10,122.70 C374.48,120.20 375.05,116.33 376.40,114.60 C377.75,112.87 379.93,112.97 382.20,112.30Z" fill="#1e1e1e" stroke="#111" stroke-width="2.5" filter="url(#bl15)"/>
<path d="M382.20,112.30 C384.47,111.63 387.35,112.15 390.00,110.60 C392.65,109.05 395.85,105.38 398.10,103.00 C400.35,100.62 401.48,98.10 403.50,96.30 C405.52,94.50 407.73,93.10 410.20,92.20 C412.67,91.30 416.60,90.67 418.30,90.90 C420.00,91.13 420.28,91.58 420.40,93.60 C420.52,95.62 419.45,99.18 419.00,103.00 C418.55,106.82 417.70,112.67 417.70,116.50 C417.70,120.33 418.78,122.85 419.00,126.00 C419.22,129.15 419.45,132.25 419.00,135.40 C418.55,138.55 417.32,141.97 416.30,144.90 C415.28,147.83 414.25,150.53 412.90,153.00 C411.55,155.47 409.77,157.45 408.20,159.70 C406.63,161.95 405.03,163.78 403.50,166.50 C401.97,169.22 400.58,173.08 399.00,176.00 C397.42,178.92 396.23,182.30 394.00,184.00 C391.77,185.70 388.53,186.03 385.60,186.20 C382.67,186.37 379.47,185.78 376.40,185.00 C373.33,184.22 369.90,183.03 367.20,181.50 C364.50,179.97 362.13,177.92 360.20,175.80 C358.27,173.68 356.93,171.12 355.60,168.80 C354.27,166.48 352.97,164.58 352.20,161.90 C351.43,159.22 350.82,155.38 351.00,152.70 C351.18,150.02 352.15,147.72 353.30,145.80 C354.45,143.88 355.98,142.37 357.90,141.20 C359.82,140.03 362.68,139.77 364.80,138.80 C366.92,137.83 369.05,136.93 370.60,135.40 C372.15,133.87 373.52,131.72 374.10,129.60 C374.68,127.48 373.72,125.20 374.10,122.70 C374.48,120.20 375.05,116.33 376.40,114.60 C377.75,112.87 379.93,112.97 382.20,112.30Z" fill="#2a2a2a"/>
<g clip-path="url(#cR1)"><path d="M382.20,112.30 C384.47,111.63 387.35,112.15 390.00,110.60 C392.65,109.05 395.85,105.38 398.10,103.00 C400.35,100.62 401.48,98.10 403.50,96.30 C405.52,94.50 407.73,93.10 410.20,92.20 C412.67,91.30 416.60,90.67 418.30,90.90 C420.00,91.13 420.28,91.58 420.40,93.60 C420.52,95.62 419.45,99.18 419.00,103.00 C418.55,106.82 417.70,112.67 417.70,116.50 C417.70,120.33 418.78,122.85 419.00,126.00 C419.22,129.15 419.45,132.25 419.00,135.40 C418.55,138.55 417.32,141.97 416.30,144.90 C415.28,147.83 414.25,150.53 412.90,153.00 C411.55,155.47 409.77,157.45 408.20,159.70 C406.63,161.95 405.03,163.78 403.50,166.50 C401.97,169.22 400.58,173.08 399.00,176.00 C397.42,178.92 396.23,182.30 394.00,184.00 C391.77,185.70 388.53,186.03 385.60,186.20 C382.67,186.37 379.47,185.78 376.40,185.00 C373.33,184.22 369.90,183.03 367.20,181.50 C364.50,179.97 362.13,177.92 360.20,175.80 C358.27,173.68 356.93,171.12 355.60,168.80 C354.27,166.48 352.97,164.58 352.20,161.90 C351.43,159.22 350.82,155.38 351.00,152.70 C351.18,150.02 352.15,147.72 353.30,145.80 C354.45,143.88 355.98,142.37 357.90,141.20 C359.82,140.03 362.68,139.77 364.80,138.80 C366.92,137.83 369.05,136.93 370.60,135.40 C372.15,133.87 373.52,131.72 374.10,129.60 C374.68,127.48 373.72,125.20 374.10,122.70 C374.48,120.20 375.05,116.33 376.40,114.60 C377.75,112.87 379.93,112.97 382.20,112.30Z" fill="none" stroke="#9a9a9a" stroke-width="6" filter="url(#bl15)"/></g>
<path d="M382.20,112.30 C384.47,111.63 387.35,112.15 390.00,110.60 C392.65,109.05 395.85,105.38 398.10,103.00 C400.35,100.62 401.48,98.10 403.50,96.30 C405.52,94.50 407.73,93.10 410.20,92.20 C412.67,91.30 416.60,90.67 418.30,90.90 C420.00,91.13 420.28,91.58 420.40,93.60 C420.52,95.62 419.45,99.18 419.00,103.00 C418.55,106.82 417.70,112.67 417.70,116.50 C417.70,120.33 418.78,122.85 419.00,126.00 C419.22,129.15 419.45,132.25 419.00,135.40 C418.55,138.55 417.32,141.97 416.30,144.90 C415.28,147.83 414.25,150.53 412.90,153.00 C411.55,155.47 409.77,157.45 408.20,159.70 C406.63,161.95 405.03,163.78 403.50,166.50 C401.97,169.22 400.58,173.08 399.00,176.00 C397.42,178.92 396.23,182.30 394.00,184.00 C391.77,185.70 388.53,186.03 385.60,186.20 C382.67,186.37 379.47,185.78 376.40,185.00 C373.33,184.22 369.90,183.03 367.20,181.50 C364.50,179.97 362.13,177.92 360.20,175.80 C358.27,173.68 356.93,171.12 355.60,168.80 C354.27,166.48 352.97,164.58 352.20,161.90 C351.43,159.22 350.82,155.38 351.00,152.70 C351.18,150.02 352.15,147.72 353.30,145.80 C354.45,143.88 355.98,142.37 357.90,141.20 C359.82,140.03 362.68,139.77 364.80,138.80 C366.92,137.83 369.05,136.93 370.60,135.40 C372.15,133.87 373.52,131.72 374.10,129.60 C374.68,127.48 373.72,125.20 374.10,122.70 C374.48,120.20 375.05,116.33 376.40,114.60 C377.75,112.87 379.93,112.97 382.20,112.30Z" fill="none" stroke="#e2e2e2" stroke-width="1.25" filter="url(#jag2)"/>
<path d="M389.00,113.00 C390.40,111.43 392.32,111.20 395.40,110.60 C398.48,110.00 404.77,108.63 407.50,109.40 C410.23,110.17 411.08,112.88 411.80,115.20 C412.52,117.52 412.52,121.22 411.80,123.30 C411.08,125.38 409.63,126.63 407.50,127.70 C405.37,128.77 401.33,128.82 399.00,129.70 C396.67,130.58 394.58,131.45 393.50,133.00 C392.42,134.55 392.33,136.83 392.50,139.00 C392.67,141.17 393.58,143.75 394.50,146.00 C395.42,148.25 396.08,150.50 398.00,152.50 C399.92,154.50 404.17,156.12 406.00,158.00 C407.83,159.88 408.92,161.88 409.00,163.80 C409.08,165.72 407.83,167.55 406.50,169.50 C405.17,171.45 403.00,173.75 401.00,175.50 C399.00,177.25 397.25,179.02 394.50,180.00 C391.75,180.98 387.90,181.47 384.50,181.40 C381.10,181.33 376.98,180.53 374.10,179.60 C371.22,178.67 369.13,177.60 367.20,175.80 C365.27,174.00 363.57,171.12 362.50,168.80 C361.43,166.48 360.98,164.40 360.80,161.90 C360.62,159.40 360.73,156.10 361.40,153.80 C362.07,151.50 363.27,149.63 364.80,148.10 C366.33,146.57 368.87,145.95 370.60,144.60 C372.33,143.25 373.47,141.68 375.20,140.00 C376.93,138.32 379.28,136.50 381.00,134.50 C382.72,132.50 384.50,130.42 385.50,128.00 C386.50,125.58 386.42,122.50 387.00,120.00 C387.58,117.50 387.60,114.57 389.00,113.00Z" fill="#1e1e1e" stroke="#111" stroke-width="2.5" filter="url(#bl15)"/>
<path d="M389.00,113.00 C390.40,111.43 392.32,111.20 395.40,110.60 C398.48,110.00 404.77,108.63 407.50,109.40 C410.23,110.17 411.08,112.88 411.80,115.20 C412.52,117.52 412.52,121.22 411.80,123.30 C411.08,125.38 409.63,126.63 407.50,127.70 C405.37,128.77 401.33,128.82 399.00,129.70 C396.67,130.58 394.58,131.45 393.50,133.00 C392.42,134.55 392.33,136.83 392.50,139.00 C392.67,141.17 393.58,143.75 394.50,146.00 C395.42,148.25 396.08,150.50 398.00,152.50 C399.92,154.50 404.17,156.12 406.00,158.00 C407.83,159.88 408.92,161.88 409.00,163.80 C409.08,165.72 407.83,167.55 406.50,169.50 C405.17,171.45 403.00,173.75 401.00,175.50 C399.00,177.25 397.25,179.02 394.50,180.00 C391.75,180.98 387.90,181.47 384.50,181.40 C381.10,181.33 376.98,180.53 374.10,179.60 C371.22,178.67 369.13,177.60 367.20,175.80 C365.27,174.00 363.57,171.12 362.50,168.80 C361.43,166.48 360.98,164.40 360.80,161.90 C360.62,159.40 360.73,156.10 361.40,153.80 C362.07,151.50 363.27,149.63 364.80,148.10 C366.33,146.57 368.87,145.95 370.60,144.60 C372.33,143.25 373.47,141.68 375.20,140.00 C376.93,138.32 379.28,136.50 381.00,134.50 C382.72,132.50 384.50,130.42 385.50,128.00 C386.50,125.58 386.42,122.50 387.00,120.00 C387.58,117.50 387.60,114.57 389.00,113.00Z" fill="#2a2a2a"/>
<g clip-path="url(#cR2)"><path d="M389.00,113.00 C390.40,111.43 392.32,111.20 395.40,110.60 C398.48,110.00 404.77,108.63 407.50,109.40 C410.23,110.17 411.08,112.88 411.80,115.20 C412.52,117.52 412.52,121.22 411.80,123.30 C411.08,125.38 409.63,126.63 407.50,127.70 C405.37,128.77 401.33,128.82 399.00,129.70 C396.67,130.58 394.58,131.45 393.50,133.00 C392.42,134.55 392.33,136.83 392.50,139.00 C392.67,141.17 393.58,143.75 394.50,146.00 C395.42,148.25 396.08,150.50 398.00,152.50 C399.92,154.50 404.17,156.12 406.00,158.00 C407.83,159.88 408.92,161.88 409.00,163.80 C409.08,165.72 407.83,167.55 406.50,169.50 C405.17,171.45 403.00,173.75 401.00,175.50 C399.00,177.25 397.25,179.02 394.50,180.00 C391.75,180.98 387.90,181.47 384.50,181.40 C381.10,181.33 376.98,180.53 374.10,179.60 C371.22,178.67 369.13,177.60 367.20,175.80 C365.27,174.00 363.57,171.12 362.50,168.80 C361.43,166.48 360.98,164.40 360.80,161.90 C360.62,159.40 360.73,156.10 361.40,153.80 C362.07,151.50 363.27,149.63 364.80,148.10 C366.33,146.57 368.87,145.95 370.60,144.60 C372.33,143.25 373.47,141.68 375.20,140.00 C376.93,138.32 379.28,136.50 381.00,134.50 C382.72,132.50 384.50,130.42 385.50,128.00 C386.50,125.58 386.42,122.50 387.00,120.00 C387.58,117.50 387.60,114.57 389.00,113.00Z" fill="none" stroke="#9a9a9a" stroke-width="6" filter="url(#bl15)"/></g>
<path d="M389.00,113.00 C390.40,111.43 392.32,111.20 395.40,110.60 C398.48,110.00 404.77,108.63 407.50,109.40 C410.23,110.17 411.08,112.88 411.80,115.20 C412.52,117.52 412.52,121.22 411.80,123.30 C411.08,125.38 409.63,126.63 407.50,127.70 C405.37,128.77 401.33,128.82 399.00,129.70 C396.67,130.58 394.58,131.45 393.50,133.00 C392.42,134.55 392.33,136.83 392.50,139.00 C392.67,141.17 393.58,143.75 394.50,146.00 C395.42,148.25 396.08,150.50 398.00,152.50 C399.92,154.50 404.17,156.12 406.00,158.00 C407.83,159.88 408.92,161.88 409.00,163.80 C409.08,165.72 407.83,167.55 406.50,169.50 C405.17,171.45 403.00,173.75 401.00,175.50 C399.00,177.25 397.25,179.02 394.50,180.00 C391.75,180.98 387.90,181.47 384.50,181.40 C381.10,181.33 376.98,180.53 374.10,179.60 C371.22,178.67 369.13,177.60 367.20,175.80 C365.27,174.00 363.57,171.12 362.50,168.80 C361.43,166.48 360.98,164.40 360.80,161.90 C360.62,159.40 360.73,156.10 361.40,153.80 C362.07,151.50 363.27,149.63 364.80,148.10 C366.33,146.57 368.87,145.95 370.60,144.60 C372.33,143.25 373.47,141.68 375.20,140.00 C376.93,138.32 379.28,136.50 381.00,134.50 C382.72,132.50 384.50,130.42 385.50,128.00 C386.50,125.58 386.42,122.50 387.00,120.00 C387.58,117.50 387.60,114.57 389.00,113.00Z" fill="none" stroke="#e2e2e2" stroke-width="1.25" filter="url(#jag2)"/>
<path d="M393.00,148.50 C395.47,149.18 395.50,151.75 397.00,153.50 C398.50,155.25 401.00,156.92 402.00,159.00 C403.00,161.08 403.42,163.75 403.00,166.00 C402.58,168.25 401.05,170.57 399.50,172.50 C397.95,174.43 396.58,176.62 393.70,177.60 C390.82,178.58 386.05,178.57 382.20,178.40 C378.35,178.23 373.40,177.80 370.60,176.60 C367.80,175.40 366.45,173.27 365.40,171.20 C364.35,169.13 364.00,166.52 364.30,164.20 C364.60,161.88 365.57,159.22 367.20,157.30 C368.83,155.38 371.60,154.02 374.10,152.70 C376.60,151.38 379.05,150.10 382.20,149.40 C385.35,148.70 390.53,147.82 393.00,148.50Z" fill="#1e1e1e" stroke="#111" stroke-width="2.5" filter="url(#bl15)"/>
<path d="M393.00,148.50 C395.47,149.18 395.50,151.75 397.00,153.50 C398.50,155.25 401.00,156.92 402.00,159.00 C403.00,161.08 403.42,163.75 403.00,166.00 C402.58,168.25 401.05,170.57 399.50,172.50 C397.95,174.43 396.58,176.62 393.70,177.60 C390.82,178.58 386.05,178.57 382.20,178.40 C378.35,178.23 373.40,177.80 370.60,176.60 C367.80,175.40 366.45,173.27 365.40,171.20 C364.35,169.13 364.00,166.52 364.30,164.20 C364.60,161.88 365.57,159.22 367.20,157.30 C368.83,155.38 371.60,154.02 374.10,152.70 C376.60,151.38 379.05,150.10 382.20,149.40 C385.35,148.70 390.53,147.82 393.00,148.50Z" fill="#2a2a2a"/>
<g clip-path="url(#cR3)"><path d="M393.00,148.50 C395.47,149.18 395.50,151.75 397.00,153.50 C398.50,155.25 401.00,156.92 402.00,159.00 C403.00,161.08 403.42,163.75 403.00,166.00 C402.58,168.25 401.05,170.57 399.50,172.50 C397.95,174.43 396.58,176.62 393.70,177.60 C390.82,178.58 386.05,178.57 382.20,178.40 C378.35,178.23 373.40,177.80 370.60,176.60 C367.80,175.40 366.45,173.27 365.40,171.20 C364.35,169.13 364.00,166.52 364.30,164.20 C364.60,161.88 365.57,159.22 367.20,157.30 C368.83,155.38 371.60,154.02 374.10,152.70 C376.60,151.38 379.05,150.10 382.20,149.40 C385.35,148.70 390.53,147.82 393.00,148.50Z" fill="none" stroke="#9a9a9a" stroke-width="6" filter="url(#bl15)"/></g>
<path d="M393.00,148.50 C395.47,149.18 395.50,151.75 397.00,153.50 C398.50,155.25 401.00,156.92 402.00,159.00 C403.00,161.08 403.42,163.75 403.00,166.00 C402.58,168.25 401.05,170.57 399.50,172.50 C397.95,174.43 396.58,176.62 393.70,177.60 C390.82,178.58 386.05,178.57 382.20,178.40 C378.35,178.23 373.40,177.80 370.60,176.60 C367.80,175.40 366.45,173.27 365.40,171.20 C364.35,169.13 364.00,166.52 364.30,164.20 C364.60,161.88 365.57,159.22 367.20,157.30 C368.83,155.38 371.60,154.02 374.10,152.70 C376.60,151.38 379.05,150.10 382.20,149.40 C385.35,148.70 390.53,147.82 393.00,148.50Z" fill="none" stroke="#e2e2e2" stroke-width="1.25" filter="url(#jag2)"/>
<path d="M407.30,119.90 C407.30,120.65 407.10,121.46 406.75,122.16 C406.40,122.85 405.84,123.54 405.19,124.07 C404.54,124.60 403.70,125.06 402.86,125.35 C402.01,125.64 401.02,125.80 400.10,125.80 C399.18,125.80 398.19,125.64 397.34,125.35 C396.50,125.06 395.66,124.60 395.01,124.07 C394.36,123.54 393.80,122.85 393.45,122.16 C393.10,121.46 392.90,120.65 392.90,119.90 C392.90,119.15 393.10,118.34 393.45,117.64 C393.80,116.95 394.36,116.26 395.01,115.73 C395.66,115.20 396.50,114.74 397.34,114.45 C398.19,114.16 399.18,114.00 400.10,114.00 C401.02,114.00 402.01,114.16 402.86,114.45 C403.70,114.74 404.54,115.20 405.19,115.73 C405.84,116.26 406.40,116.95 406.75,117.64 C407.10,118.34 407.30,119.15 407.30,119.90Z" fill="#1e1e1e" stroke="#111" stroke-width="2.5" filter="url(#bl15)"/>
<path d="M407.30,119.90 C407.30,120.65 407.10,121.46 406.75,122.16 C406.40,122.85 405.84,123.54 405.19,124.07 C404.54,124.60 403.70,125.06 402.86,125.35 C402.01,125.64 401.02,125.80 400.10,125.80 C399.18,125.80 398.19,125.64 397.34,125.35 C396.50,125.06 395.66,124.60 395.01,124.07 C394.36,123.54 393.80,122.85 393.45,122.16 C393.10,121.46 392.90,120.65 392.90,119.90 C392.90,119.15 393.10,118.34 393.45,117.64 C393.80,116.95 394.36,116.26 395.01,115.73 C395.66,115.20 396.50,114.74 397.34,114.45 C398.19,114.16 399.18,114.00 400.10,114.00 C401.02,114.00 402.01,114.16 402.86,114.45 C403.70,114.74 404.54,115.20 405.19,115.73 C405.84,116.26 406.40,116.95 406.75,117.64 C407.10,118.34 407.30,119.15 407.30,119.90Z" fill="#2a2a2a"/>
<g clip-path="url(#cR4)"><path d="M407.30,119.90 C407.30,120.65 407.10,121.46 406.75,122.16 C406.40,122.85 405.84,123.54 405.19,124.07 C404.54,124.60 403.70,125.06 402.86,125.35 C402.01,125.64 401.02,125.80 400.10,125.80 C399.18,125.80 398.19,125.64 397.34,125.35 C396.50,125.06 395.66,124.60 395.01,124.07 C394.36,123.54 393.80,122.85 393.45,122.16 C393.10,121.46 392.90,120.65 392.90,119.90 C392.90,119.15 393.10,118.34 393.45,117.64 C393.80,116.95 394.36,116.26 395.01,115.73 C395.66,115.20 396.50,114.74 397.34,114.45 C398.19,114.16 399.18,114.00 400.10,114.00 C401.02,114.00 402.01,114.16 402.86,114.45 C403.70,114.74 404.54,115.20 405.19,115.73 C405.84,116.26 406.40,116.95 406.75,117.64 C407.10,118.34 407.30,119.15 407.30,119.90Z" fill="none" stroke="#9a9a9a" stroke-width="6" filter="url(#bl15)"/></g>
<path d="M407.30,119.90 C407.30,120.65 407.10,121.46 406.75,122.16 C406.40,122.85 405.84,123.54 405.19,124.07 C404.54,124.60 403.70,125.06 402.86,125.35 C402.01,125.64 401.02,125.80 400.10,125.80 C399.18,125.80 398.19,125.64 397.34,125.35 C396.50,125.06 395.66,124.60 395.01,124.07 C394.36,123.54 393.80,122.85 393.45,122.16 C393.10,121.46 392.90,120.65 392.90,119.90 C392.90,119.15 393.10,118.34 393.45,117.64 C393.80,116.95 394.36,116.26 395.01,115.73 C395.66,115.20 396.50,114.74 397.34,114.45 C398.19,114.16 399.18,114.00 400.10,114.00 C401.02,114.00 402.01,114.16 402.86,114.45 C403.70,114.74 404.54,115.20 405.19,115.73 C405.84,116.26 406.40,116.95 406.75,117.64 C407.10,118.34 407.30,119.15 407.30,119.90Z" fill="none" stroke="#e2e2e2" stroke-width="1.25" filter="url(#jag2)"/>
<path d="M392.50,141.70 C392.50,142.50 392.33,143.37 392.02,144.11 C391.71,144.85 391.22,145.59 390.65,146.15 C390.09,146.72 389.35,147.21 388.61,147.52 C387.87,147.83 387.00,148.00 386.20,148.00 C385.40,148.00 384.53,147.83 383.79,147.52 C383.05,147.21 382.31,146.72 381.75,146.15 C381.18,145.59 380.69,144.85 380.38,144.11 C380.07,143.37 379.90,142.50 379.90,141.70 C379.90,140.90 380.07,140.03 380.38,139.29 C380.69,138.55 381.18,137.81 381.75,137.25 C382.31,136.68 383.05,136.19 383.79,135.88 C384.53,135.57 385.40,135.40 386.20,135.40 C387.00,135.40 387.87,135.57 388.61,135.88 C389.35,136.19 390.09,136.68 390.65,137.25 C391.22,137.81 391.71,138.55 392.02,139.29 C392.33,140.03 392.50,140.90 392.50,141.70Z" fill="#1e1e1e" stroke="#111" stroke-width="2.5" filter="url(#bl15)"/>
<path d="M392.50,141.70 C392.50,142.50 392.33,143.37 392.02,144.11 C391.71,144.85 391.22,145.59 390.65,146.15 C390.09,146.72 389.35,147.21 388.61,147.52 C387.87,147.83 387.00,148.00 386.20,148.00 C385.40,148.00 384.53,147.83 383.79,147.52 C383.05,147.21 382.31,146.72 381.75,146.15 C381.18,145.59 380.69,144.85 380.38,144.11 C380.07,143.37 379.90,142.50 379.90,141.70 C379.90,140.90 380.07,140.03 380.38,139.29 C380.69,138.55 381.18,137.81 381.75,137.25 C382.31,136.68 383.05,136.19 383.79,135.88 C384.53,135.57 385.40,135.40 386.20,135.40 C387.00,135.40 387.87,135.57 388.61,135.88 C389.35,136.19 390.09,136.68 390.65,137.25 C391.22,137.81 391.71,138.55 392.02,139.29 C392.33,140.03 392.50,140.90 392.50,141.70Z" fill="#2a2a2a"/>
<g clip-path="url(#cR5)"><path d="M392.50,141.70 C392.50,142.50 392.33,143.37 392.02,144.11 C391.71,144.85 391.22,145.59 390.65,146.15 C390.09,146.72 389.35,147.21 388.61,147.52 C387.87,147.83 387.00,148.00 386.20,148.00 C385.40,148.00 384.53,147.83 383.79,147.52 C383.05,147.21 382.31,146.72 381.75,146.15 C381.18,145.59 380.69,144.85 380.38,144.11 C380.07,143.37 379.90,142.50 379.90,141.70 C379.90,140.90 380.07,140.03 380.38,139.29 C380.69,138.55 381.18,137.81 381.75,137.25 C382.31,136.68 383.05,136.19 383.79,135.88 C384.53,135.57 385.40,135.40 386.20,135.40 C387.00,135.40 387.87,135.57 388.61,135.88 C389.35,136.19 390.09,136.68 390.65,137.25 C391.22,137.81 391.71,138.55 392.02,139.29 C392.33,140.03 392.50,140.90 392.50,141.70Z" fill="none" stroke="#9a9a9a" stroke-width="6" filter="url(#bl15)"/></g>
<path d="M392.50,141.70 C392.50,142.50 392.33,143.37 392.02,144.11 C391.71,144.85 391.22,145.59 390.65,146.15 C390.09,146.72 389.35,147.21 388.61,147.52 C387.87,147.83 387.00,148.00 386.20,148.00 C385.40,148.00 384.53,147.83 383.79,147.52 C383.05,147.21 382.31,146.72 381.75,146.15 C381.18,145.59 380.69,144.85 380.38,144.11 C380.07,143.37 379.90,142.50 379.90,141.70 C379.90,140.90 380.07,140.03 380.38,139.29 C380.69,138.55 381.18,137.81 381.75,137.25 C382.31,136.68 383.05,136.19 383.79,135.88 C384.53,135.57 385.40,135.40 386.20,135.40 C387.00,135.40 387.87,135.57 388.61,135.88 C389.35,136.19 390.09,136.68 390.65,137.25 C391.22,137.81 391.71,138.55 392.02,139.29 C392.33,140.03 392.50,140.90 392.50,141.70Z" fill="none" stroke="#e2e2e2" stroke-width="1.25" filter="url(#jag2)"/>
<path d="M367.20,168.80 C367.02,166.72 368.17,163.82 369.50,161.90 C370.83,159.98 373.08,158.45 375.20,157.30 C377.32,156.15 379.88,155.00 382.20,155.00 C384.52,155.00 387.13,156.38 389.10,157.30 C391.07,158.22 392.77,159.05 394.00,160.50 C395.23,161.95 396.33,164.17 396.50,166.00 C396.67,167.83 395.85,170.07 395.00,171.50 C394.15,172.93 393.53,173.92 391.40,174.60 C389.27,175.28 385.67,175.63 382.20,175.60 C378.73,175.57 373.10,175.53 370.60,174.40 C368.10,173.27 367.38,170.88 367.20,168.80Z" fill="#1e1e1e" stroke="#111" stroke-width="2.5" filter="url(#bl15)"/>
<path d="M367.20,168.80 C367.02,166.72 368.17,163.82 369.50,161.90 C370.83,159.98 373.08,158.45 375.20,157.30 C377.32,156.15 379.88,155.00 382.20,155.00 C384.52,155.00 387.13,156.38 389.10,157.30 C391.07,158.22 392.77,159.05 394.00,160.50 C395.23,161.95 396.33,164.17 396.50,166.00 C396.67,167.83 395.85,170.07 395.00,171.50 C394.15,172.93 393.53,173.92 391.40,174.60 C389.27,175.28 385.67,175.63 382.20,175.60 C378.73,175.57 373.10,175.53 370.60,174.40 C368.10,173.27 367.38,170.88 367.20,168.80Z" fill="#2a2a2a"/>
<g clip-path="url(#cR6)"><path d="M367.20,168.80 C367.02,166.72 368.17,163.82 369.50,161.90 C370.83,159.98 373.08,158.45 375.20,157.30 C377.32,156.15 379.88,155.00 382.20,155.00 C384.52,155.00 387.13,156.38 389.10,157.30 C391.07,158.22 392.77,159.05 394.00,160.50 C395.23,161.95 396.33,164.17 396.50,166.00 C396.67,167.83 395.85,170.07 395.00,171.50 C394.15,172.93 393.53,173.92 391.40,174.60 C389.27,175.28 385.67,175.63 382.20,175.60 C378.73,175.57 373.10,175.53 370.60,174.40 C368.10,173.27 367.38,170.88 367.20,168.80Z" fill="none" stroke="#9a9a9a" stroke-width="6" filter="url(#bl15)"/></g>
<path d="M367.20,168.80 C367.02,166.72 368.17,163.82 369.50,161.90 C370.83,159.98 373.08,158.45 375.20,157.30 C377.32,156.15 379.88,155.00 382.20,155.00 C384.52,155.00 387.13,156.38 389.10,157.30 C391.07,158.22 392.77,159.05 394.00,160.50 C395.23,161.95 396.33,164.17 396.50,166.00 C396.67,167.83 395.85,170.07 395.00,171.50 C394.15,172.93 393.53,173.92 391.40,174.60 C389.27,175.28 385.67,175.63 382.20,175.60 C378.73,175.57 373.10,175.53 370.60,174.40 C368.10,173.27 367.38,170.88 367.20,168.80Z" fill="none" stroke="#e2e2e2" stroke-width="1.25" filter="url(#jag2)"/>
<circle cx="386.2" cy="141.7" r="2.5" fill="#111" filter="url(#bl15)"/><ellipse cx="400.1" cy="120.5" rx="3" ry="2.5" fill="#111" filter="url(#bl15)"/>
</g>
<path d="M376.50,91.90 C378.65,89.65 380.17,89.35 381.20,87.30 C382.23,85.25 381.90,81.27 382.70,79.60 C383.50,77.93 384.78,77.67 386.00,77.30 C387.22,76.93 387.08,77.17 390.00,77.40 C392.92,77.63 399.00,78.58 403.50,78.70 C408.00,78.82 412.95,77.98 417.00,78.10 C421.05,78.22 424.65,79.63 427.80,79.40 C430.95,79.17 433.20,77.15 435.90,76.70 C438.60,76.25 441.53,75.68 444.00,76.70 C446.47,77.72 448.90,80.43 450.70,82.80 C452.50,85.17 454.12,88.43 454.80,90.90 C455.48,93.37 455.70,95.58 454.80,97.60 C453.90,99.62 451.88,101.65 449.40,103.00 C446.92,104.35 441.93,104.35 439.90,105.70 C437.87,107.05 437.42,109.30 437.20,111.10 C436.98,112.90 437.02,115.15 438.60,116.50 C440.18,117.85 444.23,118.30 446.70,119.20 C449.17,120.10 452.05,121.00 453.40,121.90 C454.75,122.80 454.80,123.47 454.80,124.60 C454.80,125.73 454.08,127.12 453.40,128.70 C452.72,130.28 451.82,131.85 450.70,134.10 C449.58,136.35 448.27,139.50 446.70,142.20 C445.13,144.90 443.33,147.38 441.30,150.30 C439.27,153.22 436.75,156.55 434.50,159.70 C432.25,162.85 430.05,166.27 427.80,169.20 C425.55,172.13 423.48,174.60 421.00,177.30 C418.52,180.00 415.37,183.38 412.90,185.40 C410.43,187.42 408.67,188.50 406.20,189.40 C403.73,190.30 401.63,190.37 398.10,190.80 C394.57,191.23 389.58,191.62 385.00,192.00 C380.42,192.38 374.35,193.30 370.60,193.10 C366.85,192.90 364.80,191.95 362.50,190.80 C360.20,189.65 358.72,188.13 356.80,186.20 C354.88,184.27 352.93,181.70 351.00,179.20 C349.07,176.70 346.93,173.88 345.20,171.20 C343.47,168.52 341.65,165.60 340.60,163.10 C339.55,160.60 339.00,158.13 338.90,156.20 C338.80,154.27 338.95,153.43 340.00,151.50 C341.05,149.57 343.17,146.90 345.20,144.60 C347.23,142.30 349.98,140.00 352.20,137.70 C354.42,135.40 357.07,132.92 358.50,130.80 C359.93,128.68 360.70,126.93 360.80,125.00 C360.90,123.07 360.15,120.93 359.10,119.20 C358.05,117.47 355.57,116.13 354.50,114.60 C353.43,113.07 352.80,111.43 352.70,110.00 C352.60,108.57 352.83,106.97 353.90,106.00 C354.97,105.03 356.70,105.07 359.10,104.20 C361.50,103.33 365.40,102.85 368.30,100.80 C371.20,98.75 374.35,94.15 376.50,91.90Z" fill="none" stroke="#000" stroke-width="2.4" filter="url(#jag)"/>
<path d="M421.30,50.00 C420.98,48.62 421.15,46.47 421.60,45.00 C422.05,43.53 422.85,42.28 424.00,41.20 C425.15,40.12 427.00,39.37 428.50,38.50 C430.00,37.63 431.33,36.92 433.00,36.00 C434.67,35.08 436.75,33.78 438.50,33.00 C440.25,32.22 442.32,31.30 443.50,31.30 C444.68,31.30 445.38,32.13 445.60,33.00 C445.82,33.87 445.65,35.42 444.80,36.50 C443.95,37.58 442.05,38.50 440.50,39.50 C438.95,40.50 436.78,41.33 435.50,42.50 C434.22,43.67 433.55,45.08 432.80,46.50 C432.05,47.92 431.88,49.78 431.00,51.00 C430.12,52.22 428.75,53.42 427.50,53.80 C426.25,54.18 424.53,53.93 423.50,53.30 C422.47,52.67 421.62,51.38 421.30,50.00Z" fill="#a8a8a8" stroke="#000" stroke-width="2.4"/>
<path d="M433.5,41.5 L439,37.5 L444,34" stroke="#000" stroke-width="4.2" stroke-linecap="round" fill="none"/>
<path d="M389.80,51.80 C390.17,50.75 390.90,49.53 391.80,49.00 C392.70,48.47 394.07,48.27 395.20,48.60 C396.33,48.93 397.63,49.93 398.60,51.00 C399.57,52.07 400.22,53.70 401.00,55.00 C401.78,56.30 402.77,57.73 403.30,58.80 C403.83,59.87 404.58,60.93 404.20,61.40 C403.82,61.87 402.37,61.77 401.00,61.60 C399.63,61.43 397.53,60.95 396.00,60.40 C394.47,59.85 392.87,59.15 391.80,58.30 C390.73,57.45 389.93,56.38 389.60,55.30 C389.27,54.22 389.43,52.85 389.80,51.80Z" fill="#a8a8a8" stroke="#000" stroke-width="2.3"/>
<line x1="369" y1="59" x2="374.5" y2="68.3" stroke="#000" stroke-width="2.6" stroke-linecap="round"/>
<line x1="452.8" y1="59" x2="448.6" y2="68.3" stroke="#000" stroke-width="2.2" stroke-linecap="round"/>
<circle cx="406" cy="64.4" r="0.9" fill="#000"/>
<rect x="387.2" y="26.6" width="110.6" height="104.2" fill="none" stroke="#8a1232" stroke-width="2.4"/>
<text x="468.5" y="42.3" font-size="11.8" fill="#8c2343">31.9</text>
<text x="15.2" y="271.2" font-size="18" text-anchor="start" fill="#000" font-weight="bold" >B</text>
<line x1="65.4" y1="299.5" x2="65.4" y2="485.59999999999997" stroke="#000" stroke-width="2.0"/>
<line x1="60.2" y1="304.2" x2="65.4" y2="304.2" stroke="#000" stroke-width="1.7"/>
<text x="57.5" y="308.3" font-size="11.6" text-anchor="end" fill="#111" stroke="#111" stroke-width="0.15" >20</text>
<line x1="60.2" y1="349.2" x2="65.4" y2="349.2" stroke="#000" stroke-width="1.7"/>
<text x="57.5" y="353.3" font-size="11.6" text-anchor="end" fill="#111" stroke="#111" stroke-width="0.15" >15</text>
<line x1="60.2" y1="394.2" x2="65.4" y2="394.2" stroke="#000" stroke-width="1.7"/>
<text x="57.5" y="398.3" font-size="11.6" text-anchor="end" fill="#111" stroke="#111" stroke-width="0.15" >10</text>
<line x1="60.2" y1="439.2" x2="65.4" y2="439.2" stroke="#000" stroke-width="1.7"/>
<text x="57.5" y="443.3" font-size="11.6" text-anchor="end" fill="#111" stroke="#111" stroke-width="0.15" >5</text>
<line x1="60.2" y1="484.2" x2="65.4" y2="484.2" stroke="#000" stroke-width="1.7"/>
<text x="57.5" y="488.3" font-size="11.6" text-anchor="end" fill="#111" stroke="#111" stroke-width="0.15" >0</text>
<line x1="64.4" y1="484.7" x2="245" y2="484.7" stroke="#000" stroke-width="2.0"/>
<line x1="88" y1="484.7" x2="88" y2="489.7" stroke="#000" stroke-width="1.7"/>
<line x1="133" y1="484.7" x2="133" y2="489.7" stroke="#000" stroke-width="1.7"/>
<line x1="178.2" y1="484.7" x2="178.2" y2="489.7" stroke="#000" stroke-width="1.7"/>
<line x1="223.4" y1="484.7" x2="223.4" y2="489.7" stroke="#000" stroke-width="1.7"/>
<text x="93.8" y="503.5" font-size="12.5" text-anchor="end" fill="#111" transform="rotate(-45 93.8 503.5)" stroke="#111" stroke-width="0.3" >HD</text>
<text x="138.8" y="503.5" font-size="12.5" text-anchor="end" fill="#111" transform="rotate(-45 138.8 503.5)" stroke="#111" stroke-width="0.3" >no cGVHD</text>
<text x="184.0" y="503.5" font-size="12.5" text-anchor="end" fill="#111" transform="rotate(-45 184.0 503.5)" stroke="#111" stroke-width="0.3" >cGVHD D0</text>
<text x="229.20000000000002" y="503.5" font-size="12.5" text-anchor="end" fill="#111" transform="rotate(-45 229.20000000000002 503.5)" stroke="#111" stroke-width="0.3" >cGVHD M12</text>
<text x="33.7" y="392.1" font-size="15" text-anchor="middle" fill="#111" textLength="155.4" lengthAdjust="spacingAndGlyphs" transform="rotate(-90 33.7 392.1)" stroke="#111" stroke-width="0.3" >% cTfh within CD4+ T cells</text>
<circle cx="77.2" cy="324.2" r="3.4" fill="#a80a34" stroke="#6e0822" stroke-width="0.9"/>
<circle cx="87.9" cy="329.8" r="3.4" fill="#a80a34" stroke="#6e0822" stroke-width="0.9"/>
<circle cx="98.8" cy="327.5" r="3.4" fill="#a80a34" stroke="#6e0822" stroke-width="0.9"/>
<circle cx="88.1" cy="365.2" r="3.4" fill="#a80a34" stroke="#6e0822" stroke-width="0.9"/>
<circle cx="88" cy="381" r="3.4" fill="#a80a34" stroke="#6e0822" stroke-width="0.9"/>
<circle cx="87.9" cy="409.8" r="3.4" fill="#a80a34" stroke="#6e0822" stroke-width="0.9"/>
<circle cx="87.9" cy="420.8" r="3.4" fill="#a80a34" stroke="#6e0822" stroke-width="0.9"/>
<circle cx="99" cy="419" r="3.4" fill="#a80a34" stroke="#6e0822" stroke-width="0.9"/>
<circle cx="82.7" cy="431" r="3.4" fill="#a80a34" stroke="#6e0822" stroke-width="0.9"/>
<circle cx="77.3" cy="436.3" r="3.4" fill="#a80a34" stroke="#6e0822" stroke-width="0.9"/>
<circle cx="99" cy="433.3" r="3.4" fill="#a80a34" stroke="#6e0822" stroke-width="0.9"/>
<circle cx="87.9" cy="437.7" r="3.4" fill="#a80a34" stroke="#6e0822" stroke-width="0.9"/>
<circle cx="99" cy="445.4" r="3.4" fill="#a80a34" stroke="#6e0822" stroke-width="0.9"/>
<circle cx="82.7" cy="455.6" r="3.4" fill="#a80a34" stroke="#6e0822" stroke-width="0.9"/>
<circle cx="87.9" cy="453.7" r="3.4" fill="#a80a34" stroke="#6e0822" stroke-width="0.9"/>
<circle cx="99" cy="458.3" r="3.4" fill="#a80a34" stroke="#6e0822" stroke-width="0.9"/>
<circle cx="77.3" cy="462.3" r="3.4" fill="#a80a34" stroke="#6e0822" stroke-width="0.9"/>
<circle cx="87.9" cy="466" r="3.4" fill="#a80a34" stroke="#6e0822" stroke-width="0.9"/>
<circle cx="87.9" cy="478" r="3.4" fill="#a80a34" stroke="#6e0822" stroke-width="0.9"/>
<line x1="88" y1="381.2" x2="88" y2="455.6" stroke="#000" stroke-width="1.9"/>
<line x1="79.25" y1="381.2" x2="96.75" y2="381.2" stroke="#000" stroke-width="1.9"/>
<line x1="79.25" y1="455.6" x2="96.75" y2="455.6" stroke="#000" stroke-width="1.9"/>
<line x1="73.0" y1="433.3" x2="103.0" y2="433.3" stroke="#000" stroke-width="2.0"/>
<rect x="129.20" y="393.90" width="7.2" height="7.2" fill="#2a478a" stroke="#1c305e" stroke-width="0.6"/>
<rect x="129.20" y="405.50" width="7.2" height="7.2" fill="#2a478a" stroke="#1c305e" stroke-width="0.6"/>
<rect x="118.50" y="443.70" width="7.2" height="7.2" fill="#2a478a" stroke="#1c305e" stroke-width="0.6"/>
<rect x="140.80" y="449.60" width="7.2" height="7.2" fill="#2a478a" stroke="#1c305e" stroke-width="0.6"/>
<rect x="129.20" y="453.10" width="7.2" height="7.2" fill="#2a478a" stroke="#1c305e" stroke-width="0.6"/>
<rect x="118.50" y="462.00" width="7.2" height="7.2" fill="#2a478a" stroke="#1c305e" stroke-width="0.6"/>
<rect x="129.20" y="464.70" width="7.2" height="7.2" fill="#2a478a" stroke="#1c305e" stroke-width="0.6"/>
<rect x="118.50" y="470.60" width="7.2" height="7.2" fill="#2a478a" stroke="#1c305e" stroke-width="0.6"/>
<rect x="140.80" y="477.40" width="7.2" height="7.2" fill="#2a478a" stroke="#1c305e" stroke-width="0.6"/>
<rect x="129.20" y="480.10" width="7.2" height="7.2" fill="#2a478a" stroke="#1c305e" stroke-width="0.6"/>
<line x1="132.8" y1="437.9" x2="132.8" y2="475.6" stroke="#000" stroke-width="1.9"/>
<line x1="123.50000000000001" y1="437.9" x2="142.10000000000002" y2="437.9" stroke="#000" stroke-width="1.9"/>
<line x1="123.50000000000001" y1="475.6" x2="142.10000000000002" y2="475.6" stroke="#000" stroke-width="1.9"/>
<line x1="117.70000000000002" y1="460.8" x2="147.9" y2="460.8" stroke="#000" stroke-width="2.0"/>
<path d="M167.30,386.21 L170.90,393.19 L163.70,393.19Z" fill="#60a042" stroke="#467a30" stroke-width="0.5"/>
<path d="M178.10,396.71 L181.70,403.69 L174.50,403.69Z" fill="#60a042" stroke="#467a30" stroke-width="0.5"/>
<path d="M167.50,440.01 L171.10,446.99 L163.90,446.99Z" fill="#60a042" stroke="#467a30" stroke-width="0.5"/>
<path d="M189.10,445.71 L192.70,452.69 L185.50,452.69Z" fill="#60a042" stroke="#467a30" stroke-width="0.5"/>
<path d="M189.60,448.61 L193.20,455.59 L186.00,455.59Z" fill="#60a042" stroke="#467a30" stroke-width="0.5"/>
<path d="M178.60,448.11 L182.20,455.09 L175.00,455.09Z" fill="#60a042" stroke="#467a30" stroke-width="0.5"/>
<path d="M167.50,456.31 L171.10,463.29 L163.90,463.29Z" fill="#60a042" stroke="#467a30" stroke-width="0.5"/>
<path d="M175.70,456.81 L179.30,463.79 L172.10,463.79Z" fill="#60a042" stroke="#467a30" stroke-width="0.5"/>
<path d="M173.30,461.61 L176.90,468.59 L169.70,468.59Z" fill="#60a042" stroke="#467a30" stroke-width="0.5"/>
<path d="M181.90,461.61 L185.50,468.59 L178.30,468.59Z" fill="#60a042" stroke="#467a30" stroke-width="0.5"/>
<path d="M167.50,468.31 L171.10,475.29 L163.90,475.29Z" fill="#60a042" stroke="#467a30" stroke-width="0.5"/>
<path d="M178.60,470.21 L182.20,477.19 L175.00,477.19Z" fill="#60a042" stroke="#467a30" stroke-width="0.5"/>
<path d="M189.10,469.31 L192.70,476.29 L185.50,476.29Z" fill="#60a042" stroke="#467a30" stroke-width="0.5"/>
<path d="M182.90,466.91 L186.50,473.89 L179.30,473.89Z" fill="#60a042" stroke="#467a30" stroke-width="0.5"/>
<line x1="178.1" y1="448.75" x2="178.1" y2="468.75" stroke="#000" stroke-width="1.9"/>
<line x1="169.9" y1="448.75" x2="186.29999999999998" y2="448.75" stroke="#000" stroke-width="1.9"/>
<line x1="169.9" y1="468.75" x2="186.29999999999998" y2="468.75" stroke="#000" stroke-width="1.9"/>
<line x1="163.2" y1="462.5" x2="193.0" y2="462.5" stroke="#000" stroke-width="2.0"/>
<path d="M212.80,432.82 L216.30,426.38 L209.30,426.38Z" fill="#4a2763" stroke="#33194a" stroke-width="0.5"/>
<path d="M229.10,432.42 L232.60,425.98 L225.60,425.98Z" fill="#4a2763" stroke="#33194a" stroke-width="0.5"/>
<path d="M234.40,436.22 L237.90,429.78 L230.90,429.78Z" fill="#4a2763" stroke="#33194a" stroke-width="0.5"/>
<path d="M223.40,441.02 L226.90,434.58 L219.90,434.58Z" fill="#4a2763" stroke="#33194a" stroke-width="0.5"/>
<path d="M212.30,449.22 L215.80,442.78 L208.80,442.78Z" fill="#4a2763" stroke="#33194a" stroke-width="0.5"/>
<path d="M223.40,455.92 L226.90,449.48 L219.90,449.48Z" fill="#4a2763" stroke="#33194a" stroke-width="0.5"/>
<path d="M234.40,470.82 L237.90,464.38 L230.90,464.38Z" fill="#4a2763" stroke="#33194a" stroke-width="0.5"/>
<path d="M222.90,472.72 L226.40,466.28 L219.40,466.28Z" fill="#4a2763" stroke="#33194a" stroke-width="0.5"/>
<line x1="223.4" y1="430.1" x2="223.4" y2="464.7" stroke="#000" stroke-width="1.9"/>
<line x1="215.70000000000002" y1="430.1" x2="231.1" y2="430.1" stroke="#000" stroke-width="1.9"/>
<line x1="215.70000000000002" y1="464.7" x2="231.1" y2="464.7" stroke="#000" stroke-width="1.9"/>
<line x1="208.3" y1="442.8" x2="238.5" y2="442.8" stroke="#000" stroke-width="2.0"/>
<line x1="84.9" y1="267.2" x2="186.3" y2="267.2" stroke="#000" stroke-width="1.5"/>
<polygon points="135.60,258.40 136.18,259.80 137.69,259.92 136.54,260.91 136.89,262.38 135.60,261.59 134.31,262.38 134.66,260.91 133.51,259.92 135.02,259.80" fill="#111" stroke="#111" stroke-width="0.35" stroke-linejoin="round"/>
<line x1="84.5" y1="298.2" x2="128.2" y2="298.2" stroke="#000" stroke-width="1.5"/>
<polygon points="106.35,289.40 106.93,290.80 108.44,290.92 107.29,291.91 107.64,293.38 106.35,292.59 105.06,293.38 105.41,291.91 104.26,290.92 105.77,290.80" fill="#111" stroke="#111" stroke-width="0.35" stroke-linejoin="round"/>
<line x1="137.5" y1="298.2" x2="181.9" y2="298.2" stroke="#000" stroke-width="1.5"/>
<text x="159.7" y="292.8" font-size="12.3" text-anchor="middle" fill="#111" textLength="11.6" lengthAdjust="spacingAndGlyphs" stroke="#111" stroke-width="0.2" >ns</text>
<line x1="180.8" y1="320.3" x2="220.9" y2="320.3" stroke="#000" stroke-width="1.5"/>
<text x="200.85000000000002" y="314.90000000000003" font-size="12.3" text-anchor="middle" fill="#111" textLength="11.6" lengthAdjust="spacingAndGlyphs" stroke="#111" stroke-width="0.2" >ns</text>
<text x="262.6" y="271.4" font-size="18" text-anchor="start" fill="#000" font-weight="bold" >C</text>
<line x1="314.7" y1="299.5" x2="314.7" y2="485.9" stroke="#000" stroke-width="2.0"/>
<line x1="309.5" y1="304.2" x2="314.7" y2="304.2" stroke="#000" stroke-width="1.7"/>
<text x="305.5" y="308.3" font-size="11.6" text-anchor="end" fill="#111" stroke="#111" stroke-width="0.15" >150</text>
<line x1="309.5" y1="364.3" x2="314.7" y2="364.3" stroke="#000" stroke-width="1.7"/>
<text x="305.5" y="368.40000000000003" font-size="11.6" text-anchor="end" fill="#111" stroke="#111" stroke-width="0.15" >100</text>
<line x1="309.5" y1="424.3" x2="314.7" y2="424.3" stroke="#000" stroke-width="1.7"/>
<text x="305.5" y="428.40000000000003" font-size="11.6" text-anchor="end" fill="#111" stroke="#111" stroke-width="0.15" >50</text>
<line x1="309.5" y1="484.4" x2="314.7" y2="484.4" stroke="#000" stroke-width="1.7"/>
<text x="305.5" y="488.5" font-size="11.6" text-anchor="end" fill="#111" stroke="#111" stroke-width="0.15" >0</text>
<line x1="313.7" y1="485" x2="494.5" y2="485" stroke="#000" stroke-width="2.0"/>
<line x1="337" y1="485" x2="337" y2="490" stroke="#000" stroke-width="1.7"/>
<line x1="382" y1="485" x2="382" y2="490" stroke="#000" stroke-width="1.7"/>
<line x1="426.9" y1="485" x2="426.9" y2="490" stroke="#000" stroke-width="1.7"/>
<line x1="472" y1="485" x2="472" y2="490" stroke="#000" stroke-width="1.7"/>
<text x="342.8" y="503.5" font-size="12.5" text-anchor="end" fill="#111" transform="rotate(-45 342.8 503.5)" stroke="#111" stroke-width="0.3" >HD</text>
<text x="387.8" y="503.5" font-size="12.5" text-anchor="end" fill="#111" transform="rotate(-45 387.8 503.5)" stroke="#111" stroke-width="0.3" >no cGVHD</text>
<text x="432.7" y="503.5" font-size="12.5" text-anchor="end" fill="#111" transform="rotate(-45 432.7 503.5)" stroke="#111" stroke-width="0.3" >cGVHD D0</text>
<text x="477.8" y="503.5" font-size="12.5" text-anchor="end" fill="#111" transform="rotate(-45 477.8 503.5)" stroke="#111" stroke-width="0.3" >cGVHD M12</text>
<text x="277.1" y="389.7" font-size="14.5" text-anchor="middle" fill="#111" textLength="67.8" lengthAdjust="spacingAndGlyphs" transform="rotate(-90 277.1 389.7)" stroke="#111" stroke-width="0.3" >cTfh x 10<tspan font-size="9" dy="-6">6</tspan><tspan dy="6">/L</tspan></text>
<circle cx="337" cy="324.6" r="3.4" fill="#a80a34" stroke="#6e0822" stroke-width="0.9"/>
<circle cx="337" cy="391.5" r="3.4" fill="#a80a34" stroke="#6e0822" stroke-width="0.9"/>
<circle cx="348.1" cy="408" r="3.4" fill="#a80a34" stroke="#6e0822" stroke-width="0.9"/>
<circle cx="337" cy="412.3" r="3.4" fill="#a80a34" stroke="#6e0822" stroke-width="0.9"/>
<circle cx="337" cy="424.3" r="3.4" fill="#a80a34" stroke="#6e0822" stroke-width="0.9"/>
<circle cx="326.1" cy="442.3" r="3.4" fill="#a80a34" stroke="#6e0822" stroke-width="0.9"/>
<circle cx="348.1" cy="442.3" r="3.4" fill="#a80a34" stroke="#6e0822" stroke-width="0.9"/>
<circle cx="326.1" cy="451.5" r="3.4" fill="#a80a34" stroke="#6e0822" stroke-width="0.9"/>
<circle cx="337" cy="449.2" r="3.4" fill="#a80a34" stroke="#6e0822" stroke-width="0.9"/>
<circle cx="337" cy="462.3" r="3.4" fill="#a80a34" stroke="#6e0822" stroke-width="0.9"/>
<circle cx="326.1" cy="471.5" r="3.4" fill="#a80a34" stroke="#6e0822" stroke-width="0.9"/>
<circle cx="337" cy="476.2" r="3.4" fill="#a80a34" stroke="#6e0822" stroke-width="0.9"/>
<circle cx="348.1" cy="475.7" r="3.4" fill="#a80a34" stroke="#6e0822" stroke-width="0.9"/>
<line x1="337" y1="409.7" x2="337" y2="466.9" stroke="#000" stroke-width="1.9"/>
<line x1="328.75" y1="409.7" x2="345.25" y2="409.7" stroke="#000" stroke-width="1.9"/>
<line x1="328.75" y1="466.9" x2="345.25" y2="466.9" stroke="#000" stroke-width="1.9"/>
<line x1="322.0" y1="442.3" x2="352.0" y2="442.3" stroke="#000" stroke-width="2.0"/>
<rect x="378.60" y="422.60" width="7.2" height="7.2" fill="#2a478a" stroke="#1c305e" stroke-width="0.6"/>
<rect x="378.30" y="451.40" width="7.2" height="7.2" fill="#2a478a" stroke="#1c305e" stroke-width="0.6"/>
<rect x="367.90" y="456.00" width="7.2" height="7.2" fill="#2a478a" stroke="#1c305e" stroke-width="0.6"/>
<rect x="378.30" y="464.70" width="7.2" height="7.2" fill="#2a478a" stroke="#1c305e" stroke-width="0.6"/>
<rect x="378.40" y="467.40" width="7.2" height="7.2" fill="#2a478a" stroke="#1c305e" stroke-width="0.6"/>
<rect x="382.40" y="473.40" width="7.2" height="7.2" fill="#2a478a" stroke="#1c305e" stroke-width="0.6"/>
<rect x="367.40" y="479.70" width="7.2" height="7.2" fill="#2a478a" stroke="#1c305e" stroke-width="0.6"/>
<rect x="373.70" y="479.70" width="7.2" height="7.2" fill="#2a478a" stroke="#1c305e" stroke-width="0.6"/>
<rect x="379.40" y="479.70" width="7.2" height="7.2" fill="#2a478a" stroke="#1c305e" stroke-width="0.6"/>
<rect x="385.20" y="479.70" width="7.2" height="7.2" fill="#2a478a" stroke="#1c305e" stroke-width="0.6"/>
<rect x="389.90" y="479.70" width="7.2" height="7.2" fill="#2a478a" stroke="#1c305e" stroke-width="0.6"/>
<rect x="378.40" y="482.40" width="7.2" height="7.2" fill="#2a478a" stroke="#1c305e" stroke-width="0.6"/>
<line x1="373.9" y1="458.5" x2="390.1" y2="458.5" stroke="#000" stroke-width="1.9"/>
<line x1="367.3" y1="479.8" x2="396.7" y2="479.8" stroke="#000" stroke-width="2.0"/>
<line x1="382" y1="458.5" x2="382" y2="484" stroke="#000" stroke-width="1.8"/>
<path d="M426.90,434.31 L430.50,441.29 L423.30,441.29Z" fill="#60a042" stroke="#467a30" stroke-width="0.5"/>
<path d="M416.30,442.91 L419.90,449.89 L412.70,449.89Z" fill="#60a042" stroke="#467a30" stroke-width="0.5"/>
<path d="M438.20,440.71 L441.80,447.69 L434.60,447.69Z" fill="#60a042" stroke="#467a30" stroke-width="0.5"/>
<path d="M426.90,452.51 L430.50,459.49 L423.30,459.49Z" fill="#60a042" stroke="#467a30" stroke-width="0.5"/>
<path d="M426.00,470.81 L429.60,477.79 L422.40,477.79Z" fill="#60a042" stroke="#467a30" stroke-width="0.5"/>
<path d="M416.30,479.01 L419.90,485.99 L412.70,485.99Z" fill="#60a042" stroke="#467a30" stroke-width="0.5"/>
<path d="M421.40,479.01 L425.00,485.99 L417.80,485.99Z" fill="#60a042" stroke="#467a30" stroke-width="0.5"/>
<path d="M426.90,479.01 L430.50,485.99 L423.30,485.99Z" fill="#60a042" stroke="#467a30" stroke-width="0.5"/>
<path d="M432.40,479.01 L436.00,485.99 L428.80,485.99Z" fill="#60a042" stroke="#467a30" stroke-width="0.5"/>
<path d="M437.50,479.01 L441.10,485.99 L433.90,485.99Z" fill="#60a042" stroke="#467a30" stroke-width="0.5"/>
<line x1="418.95" y1="454.2" x2="434.84999999999997" y2="454.2" stroke="#000" stroke-width="1.9"/>
<line x1="412.0" y1="479.6" x2="441.79999999999995" y2="479.6" stroke="#000" stroke-width="2.0"/>
<line x1="426.9" y1="454.2" x2="426.9" y2="484" stroke="#000" stroke-width="1.8"/>
<path d="M460.70,465.42 L464.20,458.98 L457.20,458.98Z" fill="#4a2763" stroke="#33194a" stroke-width="0.5"/>
<path d="M483.20,464.82 L486.70,458.38 L479.70,458.38Z" fill="#4a2763" stroke="#33194a" stroke-width="0.5"/>
<path d="M467.10,475.82 L470.60,469.38 L463.60,469.38Z" fill="#4a2763" stroke="#33194a" stroke-width="0.5"/>
<path d="M460.70,482.52 L464.20,476.08 L457.20,476.08Z" fill="#4a2763" stroke="#33194a" stroke-width="0.5"/>
<path d="M478.10,482.52 L481.60,476.08 L474.60,476.08Z" fill="#4a2763" stroke="#33194a" stroke-width="0.5"/>
<path d="M483.20,482.52 L486.70,476.08 L479.70,476.08Z" fill="#4a2763" stroke="#33194a" stroke-width="0.5"/>
<path d="M472.60,485.82 L476.10,479.38 L469.10,479.38Z" fill="#4a2763" stroke="#33194a" stroke-width="0.5"/>
<line x1="472.6" y1="463.3" x2="472.6" y2="480.5" stroke="#000" stroke-width="1.9"/>
<line x1="465.5" y1="463.3" x2="479.70000000000005" y2="463.3" stroke="#000" stroke-width="1.9"/>
<line x1="465.5" y1="480.5" x2="479.70000000000005" y2="480.5" stroke="#000" stroke-width="1.9"/>
<line x1="457.95000000000005" y1="475.4" x2="487.25" y2="475.4" stroke="#000" stroke-width="2.0"/>
<line x1="334" y1="267.4" x2="435" y2="267.4" stroke="#000" stroke-width="1.5"/>
<polygon points="381.65,258.60 382.23,260.00 383.74,260.12 382.59,261.11 382.94,262.58 381.65,261.79 380.36,262.58 380.71,261.11 379.56,260.12 381.07,260.00" fill="#111" stroke="#111" stroke-width="0.35" stroke-linejoin="round"/>
<polygon points="387.35,258.60 387.93,260.00 389.44,260.12 388.29,261.11 388.64,262.58 387.35,261.79 386.06,262.58 386.41,261.11 385.26,260.12 386.77,260.00" fill="#111" stroke="#111" stroke-width="0.35" stroke-linejoin="round"/>
<line x1="334" y1="298.5" x2="377.5" y2="298.5" stroke="#000" stroke-width="1.5"/>
<polygon points="352.90,289.70 353.48,291.10 354.99,291.22 353.84,292.21 354.19,293.68 352.90,292.89 351.61,293.68 351.96,292.21 350.81,291.22 352.32,291.10" fill="#111" stroke="#111" stroke-width="0.35" stroke-linejoin="round"/>
<polygon points="358.60,289.70 359.18,291.10 360.69,291.22 359.54,292.21 359.89,293.68 358.60,292.89 357.31,293.68 357.66,292.21 356.51,291.22 358.02,291.10" fill="#111" stroke="#111" stroke-width="0.35" stroke-linejoin="round"/>
<line x1="386.5" y1="298.5" x2="431" y2="298.5" stroke="#000" stroke-width="1.5"/>
<text x="408.75" y="293.1" font-size="12.3" text-anchor="middle" fill="#111" textLength="11.6" lengthAdjust="spacingAndGlyphs" stroke="#111" stroke-width="0.2" >ns</text>
<line x1="431" y1="320.7" x2="470" y2="320.7" stroke="#000" stroke-width="1.5"/>
<text x="450.5" y="315.3" font-size="12.3" text-anchor="middle" fill="#111" textLength="11.6" lengthAdjust="spacingAndGlyphs" stroke="#111" stroke-width="0.2" >ns</text>
<text x="15" y="597.6" font-size="18" text-anchor="start" fill="#000" font-weight="bold" >D</text>
<line x1="66.5" y1="629.4" x2="66.5" y2="813.5" stroke="#000" stroke-width="2.0"/>
<line x1="61.3" y1="632.4" x2="66.5" y2="632.4" stroke="#000" stroke-width="1.7"/>
<text x="57" y="636.5" font-size="11.6" text-anchor="end" fill="#111" stroke="#111" stroke-width="0.15" >100</text>
<line x1="61.3" y1="668.4" x2="66.5" y2="668.4" stroke="#000" stroke-width="1.7"/>
<text x="57" y="672.5" font-size="11.6" text-anchor="end" fill="#111" stroke="#111" stroke-width="0.15" >80</text>
<line x1="61.3" y1="704.4" x2="66.5" y2="704.4" stroke="#000" stroke-width="1.7"/>
<text x="57" y="708.5" font-size="11.6" text-anchor="end" fill="#111" stroke="#111" stroke-width="0.15" >60</text>
<line x1="61.3" y1="740.4" x2="66.5" y2="740.4" stroke="#000" stroke-width="1.7"/>
<text x="57" y="744.5" font-size="11.6" text-anchor="end" fill="#111" stroke="#111" stroke-width="0.15" >40</text>
<line x1="61.3" y1="776.4" x2="66.5" y2="776.4" stroke="#000" stroke-width="1.7"/>
<text x="57" y="780.5" font-size="11.6" text-anchor="end" fill="#111" stroke="#111" stroke-width="0.15" >20</text>
<line x1="61.3" y1="812.4" x2="66.5" y2="812.4" stroke="#000" stroke-width="1.7"/>
<text x="57" y="816.5" font-size="11.6" text-anchor="end" fill="#111" stroke="#111" stroke-width="0.15" >0</text>
<line x1="65.5" y1="812.6" x2="242.3" y2="812.6" stroke="#000" stroke-width="2.0"/>
<line x1="88.7" y1="812.6" x2="88.7" y2="817.6" stroke="#000" stroke-width="1.7"/>
<line x1="134.2" y1="812.6" x2="134.2" y2="817.6" stroke="#000" stroke-width="1.7"/>
<line x1="179.2" y1="812.6" x2="179.2" y2="817.6" stroke="#000" stroke-width="1.7"/>
<line x1="224.2" y1="812.6" x2="224.2" y2="817.6" stroke="#000" stroke-width="1.7"/>
<text x="94.5" y="831.5" font-size="12.5" text-anchor="end" fill="#111" transform="rotate(-45 94.5 831.5)" stroke="#111" stroke-width="0.3" >HD</text>
<text x="140.0" y="831.5" font-size="12.5" text-anchor="end" fill="#111" transform="rotate(-45 140.0 831.5)" stroke="#111" stroke-width="0.3" >no cGVHD</text>
<text x="185.0" y="831.5" font-size="12.5" text-anchor="end" fill="#111" transform="rotate(-45 185.0 831.5)" stroke="#111" stroke-width="0.3" >cGVHD D0</text>
<text x="230.0" y="831.5" font-size="12.5" text-anchor="end" fill="#111" transform="rotate(-45 230.0 831.5)" stroke="#111" stroke-width="0.3" >cGVHD M12</text>
<text x="28.4" y="720.1" font-size="15" text-anchor="middle" fill="#111" textLength="174.5" lengthAdjust="spacingAndGlyphs" transform="rotate(-90 28.4 720.1)" stroke="#111" stroke-width="0.3" >% of PD1<tspan font-size="9" dy="-6">hi</tspan><tspan dy="6"> ICOS</tspan><tspan font-size="9" dy="-6">hi</tspan><tspan dy="6"> within cTfh</tspan></text>
<circle cx="78.1" cy="719" r="3.4" fill="#a80a34" stroke="#6e0822" stroke-width="0.9"/>
<circle cx="88.7" cy="729.6" r="3.4" fill="#a80a34" stroke="#6e0822" stroke-width="0.9"/>
<circle cx="88.7" cy="743.5" r="3.4" fill="#a80a34" stroke="#6e0822" stroke-width="0.9"/>
<circle cx="94.3" cy="746.6" r="3.4" fill="#a80a34" stroke="#6e0822" stroke-width="0.9"/>
<circle cx="83.3" cy="751.8" r="3.4" fill="#a80a34" stroke="#6e0822" stroke-width="0.9"/>
<circle cx="78.1" cy="755.2" r="3.4" fill="#a80a34" stroke="#6e0822" stroke-width="0.9"/>
<circle cx="99.4" cy="755.2" r="3.4" fill="#a80a34" stroke="#6e0822" stroke-width="0.9"/>
<circle cx="88.7" cy="757.4" r="3.4" fill="#a80a34" stroke="#6e0822" stroke-width="0.9"/>
<circle cx="94.3" cy="761.6" r="3.4" fill="#a80a34" stroke="#6e0822" stroke-width="0.9"/>
<circle cx="78.1" cy="766.8" r="3.4" fill="#a80a34" stroke="#6e0822" stroke-width="0.9"/>
<circle cx="99.4" cy="766.8" r="3.4" fill="#a80a34" stroke="#6e0822" stroke-width="0.9"/>
<circle cx="88.7" cy="770.3" r="3.4" fill="#a80a34" stroke="#6e0822" stroke-width="0.9"/>
<circle cx="94.3" cy="772.9" r="3.4" fill="#a80a34" stroke="#6e0822" stroke-width="0.9"/>
<circle cx="83.3" cy="777.7" r="3.4" fill="#a80a34" stroke="#6e0822" stroke-width="0.9"/>
<circle cx="78.1" cy="782.3" r="3.4" fill="#a80a34" stroke="#6e0822" stroke-width="0.9"/>
<circle cx="88.7" cy="782.6" r="3.4" fill="#a80a34" stroke="#6e0822" stroke-width="0.9"/>
<circle cx="99.4" cy="780" r="3.4" fill="#a80a34" stroke="#6e0822" stroke-width="0.9"/>
<circle cx="88.7" cy="812.3" r="3.4" fill="#a80a34" stroke="#6e0822" stroke-width="0.9"/>
<circle cx="99.4" cy="812.3" r="3.4" fill="#a80a34" stroke="#6e0822" stroke-width="0.9"/>
<line x1="88.7" y1="751.8" x2="88.7" y2="779.7" stroke="#000" stroke-width="1.9"/>
<line x1="79.8" y1="751.8" x2="97.60000000000001" y2="751.8" stroke="#000" stroke-width="1.9"/>
<line x1="79.8" y1="779.7" x2="97.60000000000001" y2="779.7" stroke="#000" stroke-width="1.9"/>
<line x1="73.7" y1="766.8" x2="103.7" y2="766.8" stroke="#000" stroke-width="2.0"/>
<rect x="130.60" y="655.10" width="7.2" height="7.2" fill="#2a478a" stroke="#1c305e" stroke-width="0.6"/>
<rect x="119.90" y="671.50" width="7.2" height="7.2" fill="#2a478a" stroke="#1c305e" stroke-width="0.6"/>
<rect x="141.90" y="667.50" width="7.2" height="7.2" fill="#2a478a" stroke="#1c305e" stroke-width="0.6"/>
<rect x="130.60" y="674.10" width="7.2" height="7.2" fill="#2a478a" stroke="#1c305e" stroke-width="0.6"/>
<rect x="130.60" y="688.30" width="7.2" height="7.2" fill="#2a478a" stroke="#1c305e" stroke-width="0.6"/>
<rect x="141.90" y="688.30" width="7.2" height="7.2" fill="#2a478a" stroke="#1c305e" stroke-width="0.6"/>
<rect x="130.60" y="707.00" width="7.2" height="7.2" fill="#2a478a" stroke="#1c305e" stroke-width="0.6"/>
<rect x="119.90" y="714.80" width="7.2" height="7.2" fill="#2a478a" stroke="#1c305e" stroke-width="0.6"/>
<rect x="141.90" y="714.80" width="7.2" height="7.2" fill="#2a478a" stroke="#1c305e" stroke-width="0.6"/>
<rect x="130.60" y="724.30" width="7.2" height="7.2" fill="#2a478a" stroke="#1c305e" stroke-width="0.6"/>
<line x1="134.2" y1="674.2" x2="134.2" y2="718.4" stroke="#000" stroke-width="1.9"/>
<line x1="126.39999999999999" y1="674.2" x2="142.0" y2="674.2" stroke="#000" stroke-width="1.9"/>
<line x1="126.39999999999999" y1="718.4" x2="142.0" y2="718.4" stroke="#000" stroke-width="1.9"/>
<line x1="119.19999999999999" y1="691.9" x2="149.2" y2="691.9" stroke="#000" stroke-width="2.0"/>
<path d="M179.20,658.51 L182.80,665.49 L175.60,665.49Z" fill="#60a042" stroke="#467a30" stroke-width="0.5"/>
<path d="M190.00,669.91 L193.60,676.89 L186.40,676.89Z" fill="#60a042" stroke="#467a30" stroke-width="0.5"/>
<path d="M168.50,678.01 L172.10,684.99 L164.90,684.99Z" fill="#60a042" stroke="#467a30" stroke-width="0.5"/>
<path d="M179.20,674.21 L182.80,681.19 L175.60,681.19Z" fill="#60a042" stroke="#467a30" stroke-width="0.5"/>
<path d="M179.20,687.21 L182.80,694.19 L175.60,694.19Z" fill="#60a042" stroke="#467a30" stroke-width="0.5"/>
<path d="M168.50,702.81 L172.10,709.79 L164.90,709.79Z" fill="#60a042" stroke="#467a30" stroke-width="0.5"/>
<path d="M190.00,702.81 L193.60,709.79 L186.40,709.79Z" fill="#60a042" stroke="#467a30" stroke-width="0.5"/>
<path d="M179.20,714.41 L182.80,721.39 L175.60,721.39Z" fill="#60a042" stroke="#467a30" stroke-width="0.5"/>
<path d="M179.20,725.61 L182.80,732.59 L175.60,732.59Z" fill="#60a042" stroke="#467a30" stroke-width="0.5"/>
<path d="M179.20,750.61 L182.80,757.59 L175.60,757.59Z" fill="#60a042" stroke="#467a30" stroke-width="0.5"/>
<path d="M168.50,767.91 L172.10,774.89 L164.90,774.89Z" fill="#60a042" stroke="#467a30" stroke-width="0.5"/>
<path d="M189.60,767.91 L193.20,774.89 L186.00,774.89Z" fill="#60a042" stroke="#467a30" stroke-width="0.5"/>
<path d="M179.20,775.71 L182.80,782.69 L175.60,782.69Z" fill="#60a042" stroke="#467a30" stroke-width="0.5"/>
<line x1="179.2" y1="680.8" x2="179.2" y2="766.4" stroke="#000" stroke-width="1.9"/>
<line x1="171.14999999999998" y1="680.8" x2="187.25" y2="680.8" stroke="#000" stroke-width="1.9"/>
<line x1="171.14999999999998" y1="766.4" x2="187.25" y2="766.4" stroke="#000" stroke-width="1.9"/>
<line x1="164.2" y1="711.8" x2="194.2" y2="711.8" stroke="#000" stroke-width="2.0"/>
<path d="M213.80,736.22 L217.30,729.78 L210.30,729.78Z" fill="#4a2763" stroke="#33194a" stroke-width="0.5"/>
<path d="M235.00,740.12 L238.50,733.68 L231.50,733.68Z" fill="#4a2763" stroke="#33194a" stroke-width="0.5"/>
<path d="M224.20,740.72 L227.70,734.28 L220.70,734.28Z" fill="#4a2763" stroke="#33194a" stroke-width="0.5"/>
<path d="M224.20,754.52 L227.70,748.08 L220.70,748.08Z" fill="#4a2763" stroke="#33194a" stroke-width="0.5"/>
<path d="M224.20,766.12 L227.70,759.68 L220.70,759.68Z" fill="#4a2763" stroke="#33194a" stroke-width="0.5"/>
<path d="M224.20,789.82 L227.70,783.38 L220.70,783.38Z" fill="#4a2763" stroke="#33194a" stroke-width="0.5"/>
<path d="M224.20,803.02 L227.70,796.58 L220.70,796.58Z" fill="#4a2763" stroke="#33194a" stroke-width="0.5"/>
<path d="M235.00,799.52 L238.50,793.08 L231.50,793.08Z" fill="#4a2763" stroke="#33194a" stroke-width="0.5"/>
<line x1="224.2" y1="737" x2="224.2" y2="794.1" stroke="#000" stroke-width="1.9"/>
<line x1="216.39999999999998" y1="737" x2="232.0" y2="737" stroke="#000" stroke-width="1.9"/>
<line x1="216.39999999999998" y1="794.1" x2="232.0" y2="794.1" stroke="#000" stroke-width="1.9"/>
<line x1="209.04999999999998" y1="757.2" x2="239.35" y2="757.2" stroke="#000" stroke-width="2.0"/>
<line x1="86" y1="595.6" x2="186" y2="595.6" stroke="#000" stroke-width="1.5"/>
<polygon points="133.15,586.80 133.73,588.20 135.24,588.32 134.09,589.31 134.44,590.78 133.15,589.99 131.86,590.78 132.21,589.31 131.06,588.32 132.57,588.20" fill="#111" stroke="#111" stroke-width="0.35" stroke-linejoin="round"/>
<polygon points="138.85,586.80 139.43,588.20 140.94,588.32 139.79,589.31 140.14,590.78 138.85,589.99 137.56,590.78 137.91,589.31 136.76,588.32 138.27,588.20" fill="#111" stroke="#111" stroke-width="0.35" stroke-linejoin="round"/>
<line x1="86" y1="626.5" x2="129" y2="626.5" stroke="#000" stroke-width="1.5"/>
<polygon points="101.80,617.70 102.38,619.10 103.89,619.22 102.74,620.21 103.09,621.68 101.80,620.89 100.51,621.68 100.86,620.21 99.71,619.22 101.22,619.10" fill="#111" stroke="#111" stroke-width="0.35" stroke-linejoin="round"/>
<polygon points="107.50,617.70 108.08,619.10 109.59,619.22 108.44,620.21 108.79,621.68 107.50,620.89 106.21,621.68 106.56,620.21 105.41,619.22 106.92,619.10" fill="#111" stroke="#111" stroke-width="0.35" stroke-linejoin="round"/>
<polygon points="113.20,617.70 113.78,619.10 115.29,619.22 114.14,620.21 114.49,621.68 113.20,620.89 111.91,621.68 112.26,620.21 111.11,619.22 112.62,619.10" fill="#111" stroke="#111" stroke-width="0.35" stroke-linejoin="round"/>
<line x1="138" y1="626.5" x2="182.5" y2="626.5" stroke="#000" stroke-width="1.5"/>
<text x="160.25" y="621.1" font-size="12.3" text-anchor="middle" fill="#111" textLength="11.6" lengthAdjust="spacingAndGlyphs" stroke="#111" stroke-width="0.2" >ns</text>
<line x1="181.5" y1="648.5" x2="221.5" y2="648.5" stroke="#000" stroke-width="1.5"/>
<polygon points="201.50,639.70 202.08,641.10 203.59,641.22 202.44,642.21 202.79,643.68 201.50,642.89 200.21,643.68 200.56,642.21 199.41,641.22 200.92,641.10" fill="#111" stroke="#111" stroke-width="0.35" stroke-linejoin="round"/>
<text x="262.8" y="597.6" font-size="18" text-anchor="start" fill="#000" font-weight="bold" >E</text>
<line x1="313.8" y1="633" x2="313.8" y2="813.8" stroke="#000" stroke-width="2.0"/>
<line x1="308.6" y1="637.5" x2="313.8" y2="637.5" stroke="#000" stroke-width="1.7"/>
<text x="303.6" y="641.6" font-size="11.6" text-anchor="end" fill="#111" stroke="#111" stroke-width="0.15" >600</text>
<line x1="308.6" y1="694.6" x2="313.8" y2="694.6" stroke="#000" stroke-width="1.7"/>
<text x="303.6" y="698.7" font-size="11.6" text-anchor="end" fill="#111" stroke="#111" stroke-width="0.15" >400</text>
<line x1="308.6" y1="751.7" x2="313.8" y2="751.7" stroke="#000" stroke-width="1.7"/>
<text x="303.6" y="755.8000000000001" font-size="11.6" text-anchor="end" fill="#111" stroke="#111" stroke-width="0.15" >200</text>
<line x1="308.6" y1="808.8" x2="313.8" y2="808.8" stroke="#000" stroke-width="1.7"/>
<text x="303.6" y="812.9" font-size="11.6" text-anchor="end" fill="#111" stroke="#111" stroke-width="0.15" >0</text>
<line x1="312.8" y1="812.9" x2="493" y2="812.9" stroke="#000" stroke-width="2.0"/>
<line x1="336.4" y1="812.9" x2="336.4" y2="817.9" stroke="#000" stroke-width="1.7"/>
<line x1="381.4" y1="812.9" x2="381.4" y2="817.9" stroke="#000" stroke-width="1.7"/>
<line x1="426.3" y1="812.9" x2="426.3" y2="817.9" stroke="#000" stroke-width="1.7"/>
<line x1="471.9" y1="812.9" x2="471.9" y2="817.9" stroke="#000" stroke-width="1.7"/>
<text x="342.2" y="831.5" font-size="12.5" text-anchor="end" fill="#111" transform="rotate(-45 342.2 831.5)" stroke="#111" stroke-width="0.3" >HD</text>
<text x="387.2" y="831.5" font-size="12.5" text-anchor="end" fill="#111" transform="rotate(-45 387.2 831.5)" stroke="#111" stroke-width="0.3" >no cGVHD</text>
<text x="432.1" y="831.5" font-size="12.5" text-anchor="end" fill="#111" transform="rotate(-45 432.1 831.5)" stroke="#111" stroke-width="0.3" >cGVHD D0</text>
<text x="477.7" y="831.5" font-size="12.5" text-anchor="end" fill="#111" transform="rotate(-45 477.7 831.5)" stroke="#111" stroke-width="0.3" >cGVHD M12</text>
<text x="275.4" y="721.2" font-size="14.5" text-anchor="middle" fill="#111" textLength="175.5" lengthAdjust="spacingAndGlyphs" transform="rotate(-90 275.4 721.2)" stroke="#111" stroke-width="0.3" >CXCL13 concentration (ng/ml)</text>
<line x1="336.4" y1="738" x2="336.4" y2="790.9" stroke="#000" stroke-width="1.9"/>
<line x1="327.4" y1="738" x2="345.4" y2="738" stroke="#000" stroke-width="1.9"/>
<rect x="321.2" y="790.9" width="30.0" height="16.700000000000045" fill="none" stroke="#8e1838" stroke-width="1.8"/>
<line x1="322.09999999999997" y1="806.6" x2="350.3" y2="806.6" stroke="#5e0a22" stroke-width="2.1"/>
<line x1="381.4" y1="760.6" x2="381.4" y2="795.1" stroke="#000" stroke-width="1.9"/>
<line x1="372.45" y1="760.6" x2="390.34999999999997" y2="760.6" stroke="#000" stroke-width="1.9"/>
<rect x="366.2" y="795.1" width="30.5" height="13.100000000000023" fill="none" stroke="#4f6189" stroke-width="1.8"/>
<line x1="426.3" y1="662.6" x2="426.3" y2="680" stroke="#000" stroke-width="1.9"/>
<line x1="417.8" y1="662.6" x2="434.8" y2="662.6" stroke="#000" stroke-width="1.9"/>
<line x1="426.3" y1="780" x2="426.3" y2="805.9" stroke="#000" stroke-width="1.9"/>
<line x1="417.8" y1="805.9" x2="434.8" y2="805.9" stroke="#000" stroke-width="1.9"/>
<rect x="411.1" y="680" width="30.799999999999955" height="100" fill="none" stroke="#6e9c48" stroke-width="1.8"/>
<line x1="412.0" y1="737.7" x2="441.0" y2="737.7" stroke="#000" stroke-width="2.1"/>
<line x1="471.9" y1="694.5" x2="471.9" y2="730" stroke="#000" stroke-width="1.9"/>
<line x1="463.29999999999995" y1="694.5" x2="480.5" y2="694.5" stroke="#000" stroke-width="1.9"/>
<line x1="471.9" y1="802.2" x2="471.9" y2="806.3" stroke="#000" stroke-width="1.9"/>
<line x1="463.29999999999995" y1="806.3" x2="480.5" y2="806.3" stroke="#000" stroke-width="1.9"/>
<rect x="456.7" y="730" width="30.30000000000001" height="72.20000000000005" fill="none" stroke="#4a306a" stroke-width="1.8"/>
<line x1="457.59999999999997" y1="795.3" x2="486.1" y2="795.3" stroke="#000" stroke-width="2.1"/>
<line x1="333.5" y1="595.9" x2="433.5" y2="595.9" stroke="#000" stroke-width="1.5"/>
<polygon points="377.80,587.10 378.38,588.50 379.89,588.62 378.74,589.61 379.09,591.08 377.80,590.29 376.51,591.08 376.86,589.61 375.71,588.62 377.22,588.50" fill="#111" stroke="#111" stroke-width="0.35" stroke-linejoin="round"/>
<polygon points="383.50,587.10 384.08,588.50 385.59,588.62 384.44,589.61 384.79,591.08 383.50,590.29 382.21,591.08 382.56,589.61 381.41,588.62 382.92,588.50" fill="#111" stroke="#111" stroke-width="0.35" stroke-linejoin="round"/>
<polygon points="389.20,587.10 389.78,588.50 391.29,588.62 390.14,589.61 390.49,591.08 389.20,590.29 387.91,591.08 388.26,589.61 387.11,588.62 388.62,588.50" fill="#111" stroke="#111" stroke-width="0.35" stroke-linejoin="round"/>
<line x1="333.5" y1="626.9" x2="376" y2="626.9" stroke="#000" stroke-width="1.5"/>
<text x="354.75" y="621.5" font-size="12.3" text-anchor="middle" fill="#111" textLength="11.6" lengthAdjust="spacingAndGlyphs" stroke="#111" stroke-width="0.2" >ns</text>
<line x1="386" y1="626.9" x2="430.5" y2="626.9" stroke="#000" stroke-width="1.5"/>
<polygon points="402.55,618.10 403.13,619.50 404.64,619.62 403.49,620.61 403.84,622.08 402.55,621.29 401.26,622.08 401.61,620.61 400.46,619.62 401.97,619.50" fill="#111" stroke="#111" stroke-width="0.35" stroke-linejoin="round"/>
<polygon points="408.25,618.10 408.83,619.50 410.34,619.62 409.19,620.61 409.54,622.08 408.25,621.29 406.96,622.08 407.31,620.61 406.16,619.62 407.67,619.50" fill="#111" stroke="#111" stroke-width="0.35" stroke-linejoin="round"/>
<polygon points="413.95,618.10 414.53,619.50 416.04,619.62 414.89,620.61 415.24,622.08 413.95,621.29 412.66,622.08 413.01,620.61 411.86,619.62 413.37,619.50" fill="#111" stroke="#111" stroke-width="0.35" stroke-linejoin="round"/>
<line x1="429.6" y1="648.6" x2="468.5" y2="648.6" stroke="#000" stroke-width="1.5"/>
<polygon points="449.05,639.80 449.63,641.20 451.14,641.32 449.99,642.31 450.34,643.78 449.05,642.99 447.76,643.78 448.11,642.31 446.96,641.32 448.47,641.20" fill="#111" stroke="#111" stroke-width="0.35" stroke-linejoin="round"/>
<rect x="1" y="1" width="518" height="887" fill="none" stroke="#000" stroke-width="2"/>
</svg></body></html>
